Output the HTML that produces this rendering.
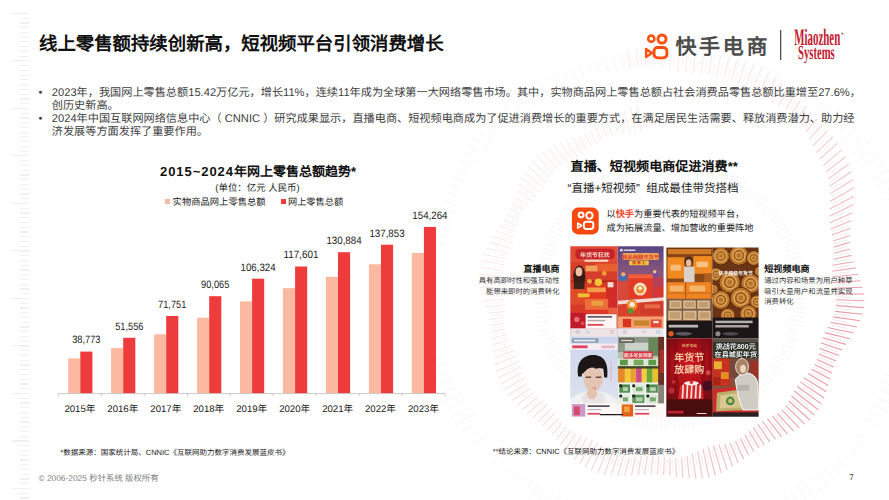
<!DOCTYPE html>
<html lang="zh-CN"><head><meta charset="utf-8">
<style>
html,body{margin:0;padding:0;}
body{text-rendering:geometricPrecision;width:889px;height:500px;overflow:hidden;background:#fff;position:relative;font-family:"Liberation Sans",sans-serif;color:#1a1a1a;}
.abs{position:absolute;white-space:nowrap;}
svg text{font-family:"Liberation Sans",sans-serif;}
#title{left:39px;top:31.7px;font-size:18.4px;font-weight:bold;line-height:24px;color:#111;}
.body{left:38.5px;font-size:11.16px;line-height:13.1px;color:#404040;}
.body i{font-style:normal;display:inline-block;width:13.3px;}
.ruler{position:absolute;left:20.4px;top:13px;width:8.4px;height:487px;background:repeating-linear-gradient(to bottom,#f0f0f0 0,#f0f0f0 1px,transparent 1px,transparent 4.75px);}
.ruler2{position:absolute;left:12px;top:13px;width:16.8px;height:487px;background:repeating-linear-gradient(to bottom,#efefef 0,#efefef 1px,transparent 1px,transparent 47.5px);}
</style></head><body>
<div class="ruler"></div><div class="ruler2"></div>
<svg class="abs" style="left:0;top:0" width="889" height="500" viewBox="0 0 889 500" stroke-width="0.9" fill="none">
<path d="M630.4 69.7L626.9 49.3" stroke="#f8eeec" stroke-width="1.1"/>
<path d="M634.2 68.1L632.5 57.2" stroke="#f9f3f2" stroke-width="0.9"/>
<path d="M638.2 68.0L635.7 50.1" stroke="#f8eeec" stroke-width="1.1"/>
<path d="M642.2 67.5L640.8 56.5" stroke="#f9f3f2" stroke-width="0.9"/>
<path d="M646.2 67.3L644.5 51.2" stroke="#f8edec" stroke-width="1.1"/>
<path d="M650.2 67.1L649.2 56.1" stroke="#f9f3f2" stroke-width="0.9"/>
<path d="M654.2 67.5L653.1 52.4" stroke="#f8edeb" stroke-width="1.1"/>
<path d="M658.1 67.1L657.5 56.0" stroke="#f9f3f2" stroke-width="0.9"/>
<path d="M662.1 68.7L661.6 53.5" stroke="#f8edeb" stroke-width="1.1"/>
<path d="M666.0 67.3L665.8 56.2" stroke="#f9f3f2" stroke-width="0.9"/>
<path d="M670.0 70.2L670.0 54.4" stroke="#f8edeb" stroke-width="1.1"/>
<path d="M673.9 67.8L674.1 56.7" stroke="#f9f3f2" stroke-width="0.9"/>
<path d="M677.8 71.8L678.3 55.0" stroke="#f8eceb" stroke-width="1.1"/>
<path d="M681.8 68.6L682.4 57.5" stroke="#f9f3f2" stroke-width="0.9"/>
<path d="M685.5 73.0L686.7 55.3" stroke="#f8ecea" stroke-width="1.1"/>
<path d="M689.6 69.6L690.6 58.5" stroke="#f9f3f2" stroke-width="0.9"/>
<path d="M693.1 73.8L695.1 55.5" stroke="#f8ecea" stroke-width="1.1"/>
<path d="M697.4 70.9L698.7 59.9" stroke="#f9f3f2" stroke-width="0.9"/>
<path d="M700.9 74.2L703.5 55.5" stroke="#f8ebea" stroke-width="1.1"/>
<path d="M705.1 72.5L706.8 61.5" stroke="#f9f2f2" stroke-width="0.9"/>
<path d="M708.7 74.7L712.0 55.7" stroke="#f8ebea" stroke-width="1.1"/>
<path d="M712.7 74.4L714.8 63.4" stroke="#f9f2f1" stroke-width="0.9"/>
<path d="M716.4 75.7L720.6 56.1" stroke="#f8ebe9" stroke-width="1.1"/>
<path d="M720.2 76.5L722.7 65.6" stroke="#f9f2f1" stroke-width="0.9"/>
<path d="M723.9 77.6L729.1 57.0" stroke="#f8ebe9" stroke-width="1.1"/>
<path d="M727.7 78.8L730.5 68.1" stroke="#f9f2f1" stroke-width="0.9"/>
<path d="M731.2 80.5L737.5 58.6" stroke="#f7eae9" stroke-width="1.1"/>
<path d="M735.0 81.5L738.2 70.8" stroke="#f9f2f1" stroke-width="0.9"/>
<path d="M738.2 84.2L745.7 60.9" stroke="#f7eae9" stroke-width="1.1"/>
<path d="M742.2 84.3L745.8 73.7" stroke="#f9f2f1" stroke-width="0.9"/>
<path d="M744.9 88.3L753.7 64.0" stroke="#f7eae8" stroke-width="1.1"/>
<path d="M749.3 87.4L753.3 76.9" stroke="#f8f2f1" stroke-width="0.9"/>
<path d="M751.4 92.4L761.4 67.9" stroke="#f7e8e7" stroke-width="1.1"/>
<path d="M756.3 90.8L760.7 80.4" stroke="#f8f2f1" stroke-width="0.9"/>
<path d="M758.1 96.2L768.7 72.4" stroke="#f7e6e5" stroke-width="1.1"/>
<path d="M763.1 94.4L767.9 84.0" stroke="#f8f1f0" stroke-width="0.9"/>
<path d="M764.8 99.6L775.6 77.5" stroke="#f6e4e3" stroke-width="1.1"/>
<path d="M769.8 98.2L775.0 87.9" stroke="#f8f1f0" stroke-width="0.9"/>
<path d="M771.8 102.6L782.1 83.1" stroke="#f6e1e1" stroke-width="1.1"/>
<path d="M776.3 102.2L781.9 92.1" stroke="#f8f0f0" stroke-width="0.9"/>
<path d="M778.7 105.6L788.4 89.0" stroke="#f6dfdf" stroke-width="1.1"/>
<path d="M782.8 106.3L788.8 96.3" stroke="#f7f0ef" stroke-width="0.9"/>
<path d="M785.7 108.9L794.6 94.6" stroke="#f6dddd" stroke-width="1.1"/>
<path d="M789.0 110.7L795.5 100.8" stroke="#f7efef" stroke-width="0.9"/>
<path d="M792.0 113.2L800.5 100.6" stroke="#f5dbdc" stroke-width="1.1"/>
<path d="M794.8 115.7L801.7 105.9" stroke="#f7efee" stroke-width="0.9"/>
<path d="M797.4 118.6L806.1 106.6" stroke="#f5d9da" stroke-width="1.1"/>
<path d="M800.2 121.2L807.5 111.5" stroke="#f7efee" stroke-width="0.9"/>
<path d="M802.1 125.0L811.6 112.7" stroke="#f5d7d8" stroke-width="1.1"/>
<path d="M805.2 127.0L812.9 117.6" stroke="#f6eeee" stroke-width="0.9"/>
<path d="M806.0 131.9L817.1 118.7" stroke="#f4d5d6" stroke-width="1.1"/>
<path d="M809.7 133.2L817.8 124.0" stroke="#f6eeed" stroke-width="0.9"/>
<path d="M809.5 139.1L822.4 124.7" stroke="#f4d3d4" stroke-width="1.1"/>
<path d="M813.8 139.8L822.2 130.7" stroke="#f6eded" stroke-width="0.9"/>
<path d="M812.9 146.0L827.6 130.8" stroke="#f4d1d2" stroke-width="1.1"/>
<path d="M817.4 146.6L826.2 137.8" stroke="#f6eded" stroke-width="0.9"/>
<path d="M816.4 152.6L832.7 136.9" stroke="#f4ced1" stroke-width="1.1"/>
<path d="M820.6 153.5L829.8 145.0" stroke="#f6ecec" stroke-width="0.9"/>
<path d="M819.9 159.0L837.5 143.2" stroke="#f3cccf" stroke-width="1.1"/>
<path d="M823.4 160.7L832.9 152.4" stroke="#f5ecec" stroke-width="0.9"/>
<path d="M823.3 165.3L841.8 149.8" stroke="#f3cacd" stroke-width="1.1"/>
<path d="M825.7 167.9L835.7 159.9" stroke="#f5eceb" stroke-width="0.9"/>
<path d="M826.3 171.9L845.6 156.8" stroke="#f3c8cb" stroke-width="1.1"/>
<path d="M827.7 175.2L838.0 167.4" stroke="#f5ebeb" stroke-width="0.9"/>
<path d="M828.5 178.8L848.8 164.1" stroke="#f2c6c9" stroke-width="1.1"/>
<path d="M829.3 182.4L839.9 175.0" stroke="#f5ebeb" stroke-width="0.9"/>
<path d="M829.8 186.2L851.1 171.8" stroke="#f2c4c8" stroke-width="1.1"/>
<path d="M830.6 189.7L841.6 182.6" stroke="#f4eaea" stroke-width="0.9"/>
<path d="M830.2 193.9L852.7 179.8" stroke="#f2c2c6" stroke-width="1.1"/>
<path d="M831.6 196.9L842.9 190.1" stroke="#f4eaea" stroke-width="0.9"/>
<path d="M830.0 201.6L853.5 188.1" stroke="#f1c0c4" stroke-width="1.1"/>
<path d="M832.3 204.0L843.9 197.6" stroke="#f4e9ea" stroke-width="0.9"/>
<path d="M829.6 209.1L853.6 196.4" stroke="#f1bec2" stroke-width="1.1"/>
<path d="M832.8 211.0L844.7 205.0" stroke="#f4e9e9" stroke-width="0.9"/>
<path d="M829.5 216.2L853.1 204.7" stroke="#f1bbc0" stroke-width="1.1"/>
<path d="M833.2 217.9L845.4 212.2" stroke="#f3e9e9" stroke-width="0.9"/>
<path d="M829.8 222.9L852.3 212.8" stroke="#f0b9be" stroke-width="1.1"/>
<path d="M833.4 224.7L845.9 219.3" stroke="#f3e8e8" stroke-width="0.9"/>
<path d="M830.6 229.1L851.4 220.7" stroke="#f0b7bc" stroke-width="1.1"/>
<path d="M833.5 231.2L846.3 226.3" stroke="#f3e8e8" stroke-width="0.9"/>
<path d="M831.8 235.1L850.5 228.3" stroke="#f0b5ba" stroke-width="1.1"/>
<path d="M833.6 237.7L846.6 233.2" stroke="#f3e7e8" stroke-width="0.9"/>
<path d="M832.9 241.1L849.9 235.5" stroke="#efb2b8" stroke-width="1.1"/>
<path d="M833.7 244.0L846.9 239.9" stroke="#f2e7e7" stroke-width="0.9"/>
<path d="M833.7 247.1L849.8 242.4" stroke="#efb0b6" stroke-width="1.1"/>
<path d="M833.8 250.1L847.3 246.5" stroke="#f2e6e7" stroke-width="0.9"/>
<path d="M833.8 253.2L850.3 249.0" stroke="#efaeb4" stroke-width="1.1"/>
<path d="M834.0 256.1L847.8 253.0" stroke="#f2e6e6" stroke-width="0.9"/>
<path d="M833.3 259.3L851.5 255.4" stroke="#efacb2" stroke-width="1.1"/>
<path d="M834.4 262.0L848.4 259.3" stroke="#f2e5e6" stroke-width="0.9"/>
<path d="M832.6 265.3L853.3 261.7" stroke="#eea9b0" stroke-width="1.1"/>
<path d="M835.0 267.9L849.1 265.6" stroke="#f2e5e6" stroke-width="0.9"/>
<path d="M832.2 271.2L855.6 267.9" stroke="#eea7ae" stroke-width="1.1"/>
<path d="M835.8 273.6L850.1 271.9" stroke="#f1e4e5" stroke-width="0.9"/>
<path d="M832.2 277.0L858.2 274.2" stroke="#eea5ac" stroke-width="1.1"/>
<path d="M836.4 279.4L850.8 278.2" stroke="#f1e4e5" stroke-width="0.9"/>
<path d="M832.7 282.6L860.6 280.7" stroke="#eda3ab" stroke-width="1.1"/>
<path d="M836.8 285.3L851.4 284.5" stroke="#f1e4e4" stroke-width="0.9"/>
<path d="M833.7 288.3L862.6 287.3" stroke="#eda0a9" stroke-width="1.1"/>
<path d="M837.0 291.1L851.7 290.8" stroke="#f1e3e4" stroke-width="0.9"/>
<path d="M835.0 294.0L864.0 294.0" stroke="#ed9ea7" stroke-width="1.1"/>
<path d="M836.9 296.9L851.8 297.2" stroke="#f0e3e4" stroke-width="0.9"/>
<path d="M836.0 299.8L864.4 300.8" stroke="#ed9ea6" stroke-width="1.1"/>
<path d="M836.5 302.7L851.3 303.5" stroke="#f0e3e4" stroke-width="0.9"/>
<path d="M836.1 305.6L863.9 307.6" stroke="#ec9da6" stroke-width="1.1"/>
<path d="M835.7 308.5L850.5 309.8" stroke="#f0e3e4" stroke-width="0.9"/>
<path d="M835.1 311.4L862.4 314.2" stroke="#ec9da6" stroke-width="1.1"/>
<path d="M834.6 314.2L849.4 316.0" stroke="#f0e3e3" stroke-width="0.9"/>
<path d="M833.2 316.9L860.1 320.7" stroke="#ec9da5" stroke-width="1.1"/>
<path d="M833.2 319.8L847.9 322.2" stroke="#f0e2e3" stroke-width="0.9"/>
<path d="M830.5 322.3L857.0 327.0" stroke="#ec9ca5" stroke-width="1.1"/>
<path d="M831.5 325.4L846.2 328.2" stroke="#f0e2e3" stroke-width="0.9"/>
<path d="M827.6 327.5L853.5 333.0" stroke="#ec9ca4" stroke-width="1.1"/>
<path d="M829.6 330.9L844.2 334.2" stroke="#f0e2e3" stroke-width="0.9"/>
<path d="M824.9 332.6L849.7 338.8" stroke="#ec9ba4" stroke-width="1.1"/>
<path d="M827.6 336.2L842.0 340.1" stroke="#f0e2e3" stroke-width="0.9"/>
<path d="M822.7 337.8L845.9 344.4" stroke="#ec9ba4" stroke-width="1.1"/>
<path d="M825.4 341.5L839.7 345.9" stroke="#f0e2e3" stroke-width="0.9"/>
<path d="M821.1 343.1L842.3 350.0" stroke="#ec9aa3" stroke-width="1.1"/>
<path d="M823.1 346.7L837.2 351.6" stroke="#f0e2e3" stroke-width="0.9"/>
<path d="M819.8 348.5L839.0 355.5" stroke="#ec9aa3" stroke-width="1.1"/>
<path d="M820.7 351.8L834.7 357.2" stroke="#f0e2e3" stroke-width="0.9"/>
<path d="M818.6 354.0L836.1 361.1" stroke="#ec9ba4" stroke-width="1.1"/>
<path d="M818.3 357.0L832.1 362.8" stroke="#f0e2e3" stroke-width="0.9"/>
<path d="M817.0 359.4L833.8 366.9" stroke="#ec9ca4" stroke-width="1.1"/>
<path d="M815.9 362.0L829.4 368.3" stroke="#f0e2e3" stroke-width="0.9"/>
<path d="M814.7 364.6L831.8 372.9" stroke="#ec9da5" stroke-width="1.1"/>
<path d="M813.5 367.1L826.7 373.8" stroke="#f0e3e4" stroke-width="0.9"/>
<path d="M811.6 369.3L830.1 379.1" stroke="#ec9da6" stroke-width="1.1"/>
<path d="M810.8 372.1L823.8 379.2" stroke="#f0e3e4" stroke-width="0.9"/>
<path d="M807.9 373.6L828.3 385.4" stroke="#ed9ea7" stroke-width="1.1"/>
<path d="M808.0 376.9L820.7 384.5" stroke="#f0e3e4" stroke-width="0.9"/>
<path d="M804.0 377.8L826.4 391.8" stroke="#ed9fa7" stroke-width="1.1"/>
<path d="M805.0 381.7L817.4 389.7" stroke="#f1e3e4" stroke-width="0.9"/>
<path d="M800.3 381.9L824.2 398.0" stroke="#eda0a8" stroke-width="1.1"/>
<path d="M801.9 386.3L813.9 394.8" stroke="#f1e3e4" stroke-width="0.9"/>
<path d="M797.0 386.3L821.5 404.1" stroke="#eda1a9" stroke-width="1.1"/>
<path d="M798.6 390.9L810.3 399.7" stroke="#f1e3e4" stroke-width="0.9"/>
<path d="M794.2 391.0L818.3 409.8" stroke="#eda2aa" stroke-width="1.1"/>
<path d="M795.1 395.3L806.5 404.5" stroke="#f1e4e4" stroke-width="0.9"/>
<path d="M791.5 396.0L814.4 415.2" stroke="#eda2aa" stroke-width="1.1"/>
<path d="M791.5 399.6L802.5 409.2" stroke="#f1e4e5" stroke-width="0.9"/>
<path d="M788.8 401.0L809.9 420.0" stroke="#eda3ab" stroke-width="1.1"/>
<path d="M787.7 403.8L798.4 413.7" stroke="#f1e4e5" stroke-width="0.9"/>
<path d="M785.6 405.7L804.8 424.2" stroke="#eda4ac" stroke-width="1.1"/>
<path d="M783.8 407.8L794.1 418.1" stroke="#f1e4e5" stroke-width="0.9"/>
<path d="M781.8 409.8L799.3 427.9" stroke="#eea5ac" stroke-width="1.1"/>
<path d="M779.8 411.7L789.7 422.3" stroke="#f1e4e5" stroke-width="0.9"/>
<path d="M777.4 413.3L793.5 431.2" stroke="#eea6ad" stroke-width="1.1"/>
<path d="M775.6 415.5L785.1 426.4" stroke="#f1e4e5" stroke-width="0.9"/>
<path d="M772.5 416.1L787.5 434.1" stroke="#eea7ae" stroke-width="1.1"/>
<path d="M771.3 419.1L780.4 430.3" stroke="#f1e5e5" stroke-width="0.9"/>
<path d="M767.4 418.7L781.5 436.7" stroke="#eea9b0" stroke-width="1.1"/>
<path d="M766.9 422.6L775.5 434.0" stroke="#f2e5e6" stroke-width="0.9"/>
<path d="M762.4 421.2L775.6 439.3" stroke="#eeabb1" stroke-width="1.1"/>
<path d="M762.3 425.9L770.5 437.5" stroke="#f2e6e6" stroke-width="0.9"/>
<path d="M757.8 424.2L769.8 441.9" stroke="#efadb3" stroke-width="1.1"/>
<path d="M757.7 429.0L765.4 440.8" stroke="#f2e6e6" stroke-width="0.9"/>
<path d="M753.4 427.5L764.2 444.8" stroke="#efaeb5" stroke-width="1.1"/>
<path d="M752.9 432.0L760.1 444.0" stroke="#f2e6e7" stroke-width="0.9"/>
<path d="M749.3 431.3L758.9 448.0" stroke="#efb0b7" stroke-width="1.1"/>
<path d="M748.1 434.8L754.8 447.0" stroke="#f3e7e7" stroke-width="0.9"/>
<path d="M745.0 435.0L753.7 451.4" stroke="#efb2b8" stroke-width="1.1"/>
<path d="M743.1 437.5L749.4 449.7" stroke="#f3e7e8" stroke-width="0.9"/>
<path d="M740.4 438.4L748.6 455.1" stroke="#f0b4ba" stroke-width="1.1"/>
<path d="M738.0 439.9L743.8 452.3" stroke="#f3e8e8" stroke-width="0.9"/>
<path d="M735.5 441.1L743.5 459.0" stroke="#f0b6bc" stroke-width="1.1"/>
<path d="M732.9 442.2L738.2 454.7" stroke="#f3e8e8" stroke-width="0.9"/>
<path d="M730.2 442.9L738.2 462.9" stroke="#f0b8bd" stroke-width="1.1"/>
<path d="M727.7 444.3L732.5 456.9" stroke="#f3e8e9" stroke-width="0.9"/>
<path d="M724.6 444.0L732.8 466.6" stroke="#f1babf" stroke-width="1.1"/>
<path d="M722.4 446.2L726.8 458.9" stroke="#f4e9e9" stroke-width="0.9"/>
<path d="M719.0 444.7L727.2 470.1" stroke="#f1bcc1" stroke-width="1.1"/>
<path d="M717.1 448.1L721.0 460.8" stroke="#f4e9e9" stroke-width="0.9"/>
<path d="M713.4 445.5L721.4 473.1" stroke="#f1bec3" stroke-width="1.1"/>
<path d="M711.8 449.8L715.2 462.6" stroke="#f4eaea" stroke-width="0.9"/>
<path d="M708.1 446.8L715.3 475.5" stroke="#f1c0c4" stroke-width="1.1"/>
<path d="M706.4 451.5L709.3 464.3" stroke="#f4eaea" stroke-width="0.9"/>
<path d="M702.9 448.7L709.0 477.3" stroke="#f2c2c6" stroke-width="1.1"/>
<path d="M700.9 453.1L703.4 465.9" stroke="#f4eaea" stroke-width="0.9"/>
<path d="M697.7 451.2L702.5 478.4" stroke="#f2c4c8" stroke-width="1.1"/>
<path d="M695.4 454.5L697.4 467.3" stroke="#f5ebeb" stroke-width="0.9"/>
<path d="M692.4 453.7L696.0 478.8" stroke="#f2c6c9" stroke-width="1.1"/>
<path d="M689.9 455.8L691.4 468.5" stroke="#f5ebeb" stroke-width="0.9"/>
<path d="M687.0 455.9L689.4 478.6" stroke="#f3c8cb" stroke-width="1.1"/>
<path d="M684.3 456.9L685.4 469.6" stroke="#f5eceb" stroke-width="0.9"/>
<path d="M681.4 457.4L682.9 477.9" stroke="#f3cacd" stroke-width="1.1"/>
<path d="M678.6 457.9L679.3 470.5" stroke="#f5ecec" stroke-width="0.9"/>
<path d="M675.7 458.0L676.4 477.1" stroke="#f3cccf" stroke-width="1.1"/>
<path d="M672.9 458.7L673.1 471.2" stroke="#f5ecec" stroke-width="0.9"/>
<path d="M670.0 457.7L670.0 476.1" stroke="#f3ced0" stroke-width="1.1"/>
<path d="M667.1 459.3L666.9 471.8" stroke="#f6edec" stroke-width="0.9"/>
<path d="M664.3 457.0L663.7 475.3" stroke="#f4cfd1" stroke-width="1.1"/>
<path d="M661.3 459.7L660.7 472.1" stroke="#f6edec" stroke-width="0.9"/>
<path d="M658.7 456.3L657.4 474.8" stroke="#f4cfd1" stroke-width="1.1"/>
<path d="M655.5 459.8L654.4 472.2" stroke="#f6eded" stroke-width="0.9"/>
<path d="M653.0 455.9L651.0 474.5" stroke="#f4d0d2" stroke-width="1.1"/>
<path d="M649.6 459.8L648.1 472.1" stroke="#f6eded" stroke-width="0.9"/>
<path d="M647.2 456.0L644.6 474.6" stroke="#f4d1d3" stroke-width="1.1"/>
<path d="M643.8 459.5L641.9 471.7" stroke="#f6eded" stroke-width="0.9"/>
<path d="M641.4 456.4L638.1 474.9" stroke="#f4d1d3" stroke-width="1.1"/>
<path d="M638.0 458.9L635.6 471.0" stroke="#f6eded" stroke-width="0.9"/>
<path d="M635.4 456.9L631.5 475.3" stroke="#f4d2d4" stroke-width="1.1"/>
<path d="M632.1 458.0L629.4 470.0" stroke="#f6eded" stroke-width="0.9"/>
<path d="M629.4 457.0L624.7 475.7" stroke="#f4d3d4" stroke-width="1.1"/>
<path d="M626.3 456.9L623.2 468.8" stroke="#f6eeed" stroke-width="0.9"/>
<path d="M623.5 456.2L617.8 475.9" stroke="#f4d3d5" stroke-width="1.1"/>
<path d="M620.6 455.5L617.0 467.2" stroke="#f6eeed" stroke-width="0.9"/>
<path d="M617.9 454.4L611.0 475.6" stroke="#f4d4d6" stroke-width="1.1"/>
<path d="M615.0 453.8L611.0 465.3" stroke="#f6eeed" stroke-width="0.9"/>
<path d="M612.6 451.8L604.2 474.7" stroke="#f4d5d6" stroke-width="1.1"/>
<path d="M609.4 451.8L605.1 463.1" stroke="#f6eeee" stroke-width="0.9"/>
<path d="M607.6 448.5L597.7 473.0" stroke="#f4d5d7" stroke-width="1.1"/>
<path d="M604.0 449.6L599.2 460.8" stroke="#f6eeee" stroke-width="0.9"/>
<path d="M602.6 445.3L591.3 470.7" stroke="#f5d6d7" stroke-width="1.1"/>
<path d="M598.6 447.2L593.5 458.2" stroke="#f6eeee" stroke-width="0.9"/>
<path d="M597.7 442.3L585.3 467.6" stroke="#f5d7d8" stroke-width="1.1"/>
<path d="M593.3 444.6L587.8 455.4" stroke="#f7eeee" stroke-width="0.9"/>
<path d="M592.4 439.9L579.7 463.8" stroke="#f5d7d8" stroke-width="1.1"/>
<path d="M588.1 441.8L582.2 452.4" stroke="#f7efee" stroke-width="0.9"/>
<path d="M587.0 437.8L574.5 459.5" stroke="#f5d8d9" stroke-width="1.1"/>
<path d="M583.0 438.9L576.8 449.2" stroke="#f7efee" stroke-width="0.9"/>
<path d="M581.4 435.8L569.6 454.7" stroke="#f5d9da" stroke-width="1.1"/>
<path d="M578.0 435.7L571.4 445.8" stroke="#f7efee" stroke-width="0.9"/>
<path d="M575.9 433.6L565.0 449.7" stroke="#f5dada" stroke-width="1.1"/>
<path d="M573.1 432.4L566.2 442.2" stroke="#f7efee" stroke-width="0.9"/>
<path d="M570.7 430.7L560.6 444.6" stroke="#f5dadb" stroke-width="1.1"/>
<path d="M568.3 429.0L561.1 438.5" stroke="#f7efef" stroke-width="0.9"/>
<path d="M566.1 427.0L556.3 439.5" stroke="#f5dbdb" stroke-width="1.1"/>
<path d="M563.6 425.3L556.2 434.6" stroke="#f7efef" stroke-width="0.9"/>
<path d="M562.0 422.7L552.0 434.7" stroke="#f5dcdc" stroke-width="1.1"/>
<path d="M559.1 421.5L551.3 430.5" stroke="#f7efef" stroke-width="0.9"/>
<path d="M558.4 418.0L547.5 430.1" stroke="#f5dcdd" stroke-width="1.1"/>
<path d="M554.7 417.6L546.7 426.2" stroke="#f7efef" stroke-width="0.9"/>
<path d="M554.9 413.2L542.8 425.7" stroke="#f6dddd" stroke-width="1.1"/>
<path d="M550.5 413.5L542.2 421.8" stroke="#f7f0ef" stroke-width="0.9"/>
<path d="M551.3 408.7L537.8 421.6" stroke="#f6dede" stroke-width="1.1"/>
<path d="M546.4 409.3L537.8 417.3" stroke="#f7f0ef" stroke-width="0.9"/>
<path d="M547.3 404.5L532.7 417.7" stroke="#f6dede" stroke-width="1.1"/>
<path d="M542.5 404.9L533.6 412.6" stroke="#f7f0ef" stroke-width="0.9"/>
<path d="M542.9 400.6L527.3 413.7" stroke="#f6dfdf" stroke-width="1.1"/>
<path d="M538.7 400.4L529.6 407.7" stroke="#f7f0ef" stroke-width="0.9"/>
<path d="M538.3 396.9L521.9 409.7" stroke="#f6e0e0" stroke-width="1.1"/>
<path d="M535.0 395.7L525.7 402.7" stroke="#f8f0f0" stroke-width="0.9"/>
<path d="M533.9 392.9L516.7 405.4" stroke="#f6e1e0" stroke-width="1.1"/>
<path d="M531.6 390.9L522.0 397.6" stroke="#f8f0f0" stroke-width="0.9"/>
<path d="M530.0 388.5L511.7 400.8" stroke="#f6e1e1" stroke-width="1.1"/>
<path d="M528.3 386.0L518.5 392.4" stroke="#f8f0f0" stroke-width="0.9"/>
<path d="M526.8 383.5L507.2 395.7" stroke="#f6e2e2" stroke-width="1.1"/>
<path d="M525.1 381.0L515.2 387.0" stroke="#f8f1f0" stroke-width="0.9"/>
<path d="M524.4 378.1L503.2 390.3" stroke="#f6e3e2" stroke-width="1.1"/>
<path d="M522.2 375.9L512.1 381.5" stroke="#f8f1f0" stroke-width="0.9"/>
<path d="M522.5 372.4L500.0 384.4" stroke="#f6e3e3" stroke-width="1.1"/>
<path d="M519.4 370.7L509.2 375.9" stroke="#f8f1f0" stroke-width="0.9"/>
<path d="M520.9 366.7L497.4 378.2" stroke="#f7e4e3" stroke-width="1.1"/>
<path d="M516.8 365.4L506.5 370.3" stroke="#f8f1f0" stroke-width="0.9"/>
<path d="M519.2 361.2L495.5 371.7" stroke="#f7e5e4" stroke-width="1.1"/>
<path d="M514.4 360.0L503.9 364.5" stroke="#f8f1f0" stroke-width="0.9"/>
<path d="M516.9 355.8L494.3 365.0" stroke="#f7e6e5" stroke-width="1.1"/>
<path d="M512.2 354.6L501.6 358.6" stroke="#f8f1f1" stroke-width="0.9"/>
<path d="M514.2 350.7L493.5 358.2" stroke="#f7e6e5" stroke-width="1.1"/>
<path d="M510.2 349.0L499.5 352.7" stroke="#f8f1f1" stroke-width="0.9"/>
<path d="M511.3 345.6L493.0 351.5" stroke="#f7e7e6" stroke-width="1.1"/>
<path d="M508.4 343.4L497.6 346.7" stroke="#f8f2f1" stroke-width="0.9"/>
<path d="M508.4 340.3L492.6 344.9" stroke="#f7e8e6" stroke-width="1.1"/>
<path d="M506.8 337.7L495.9 340.7" stroke="#f8f2f1" stroke-width="0.9"/>
<path d="M506.2 334.9L492.2 338.3" stroke="#f7e8e7" stroke-width="1.1"/>
<path d="M505.3 332.0L494.4 334.5" stroke="#f8f2f1" stroke-width="0.9"/>
<path d="M504.8 329.1L491.5 331.9" stroke="#f7e9e8" stroke-width="1.1"/>
<path d="M504.1 326.2L493.1 328.4" stroke="#f9f2f1" stroke-width="0.9"/>
<path d="M504.3 323.2L490.5 325.6" stroke="#f7eae8" stroke-width="1.1"/>
<path d="M503.1 320.4L492.0 322.2" stroke="#f9f2f1" stroke-width="0.9"/>
<path d="M504.5 317.3L489.2 319.4" stroke="#f7eae9" stroke-width="1.1"/>
<path d="M502.3 314.6L491.2 316.0" stroke="#f9f2f1" stroke-width="0.9"/>
<path d="M504.9 311.4L487.5 313.2" stroke="#f7eae9" stroke-width="1.1"/>
<path d="M501.6 308.7L490.5 309.7" stroke="#f9f2f1" stroke-width="0.9"/>
<path d="M505.2 305.5L485.6 306.9" stroke="#f8ebe9" stroke-width="1.1"/>
<path d="M501.2 302.8L490.1 303.4" stroke="#f9f2f1" stroke-width="0.9"/>
<path d="M505.1 299.8L483.7 300.5" stroke="#f8ebe9" stroke-width="1.1"/>
<path d="M501.0 296.9L489.9 297.1" stroke="#f9f2f1" stroke-width="0.9"/>
<path d="M504.4 294.0L481.9 294.0" stroke="#f8ebea" stroke-width="1.1"/>
<path d="M501.0 291.1L489.9 290.9" stroke="#f9f2f2" stroke-width="0.9"/>
<path d="M503.4 288.2L480.5 287.4" stroke="#f8ebea" stroke-width="1.1"/>
<path d="M501.2 285.2L490.1 284.6" stroke="#f9f3f2" stroke-width="0.9"/>
<path d="M502.5 282.3L479.5 280.7" stroke="#f8ecea" stroke-width="1.1"/>
<path d="M501.6 279.3L490.6 278.3" stroke="#f9f3f2" stroke-width="0.9"/>
<path d="M502.1 276.4L479.3 274.0" stroke="#f8ecea" stroke-width="1.1"/>
<path d="M502.3 273.4L491.3 272.1" stroke="#f9f3f2" stroke-width="0.9"/>
<path d="M502.7 270.5L479.8 267.3" stroke="#f8eceb" stroke-width="1.1"/>
<path d="M503.1 267.6L492.1 265.8" stroke="#f9f3f2" stroke-width="0.9"/>
<path d="M504.1 264.8L481.1 260.7" stroke="#f8edeb" stroke-width="1.1"/>
<path d="M504.1 261.8L493.2 259.6" stroke="#f9f3f2" stroke-width="0.9"/>
<path d="M506.3 259.2L483.1 254.3" stroke="#f8edeb" stroke-width="1.1"/>
<path d="M505.3 256.0L494.6 253.5" stroke="#f9f3f2" stroke-width="0.9"/>
<path d="M508.8 253.8L485.9 248.1" stroke="#f8edeb" stroke-width="1.1"/>
<path d="M506.8 250.3L496.1 247.4" stroke="#f9f3f2" stroke-width="0.9"/>
<path d="M511.2 248.5L489.1 242.1" stroke="#f8edec" stroke-width="1.1"/>
<path d="M508.4 244.6L497.8 241.4" stroke="#f9f3f2" stroke-width="0.9"/>
<path d="M513.1 243.0L492.6 236.4" stroke="#f8eeec" stroke-width="1.1"/>
<path d="M510.2 239.0L499.8 235.4" stroke="#f9f3f2" stroke-width="0.9"/>
<path d="M514.5 237.4L496.3 230.8" stroke="#f8eeec" stroke-width="1.1"/>
<path d="M512.2 233.4L502.0 229.5" stroke="#f9f3f2" stroke-width="0.9"/>
<path d="M515.6 231.6L499.9 225.3" stroke="#f8eeec" stroke-width="1.1"/>
<path d="M514.4 228.0L504.3 223.7" stroke="#f9f3f2" stroke-width="0.9"/>
<path d="M516.7 225.8L503.3 219.8" stroke="#f8eeec" stroke-width="1.1"/>
<path d="M516.8 222.6L506.9 217.9" stroke="#f9f3f2" stroke-width="0.9"/>
<path d="M518.4 220.0L506.4 214.2" stroke="#f8eeec" stroke-width="1.1"/>
<path d="M519.4 217.3L509.6 212.3" stroke="#f9f3f2" stroke-width="0.9"/>
<path d="M520.8 214.7L509.2 208.5" stroke="#f8eeec" stroke-width="1.1"/>
<path d="M522.2 212.1L512.6 206.7" stroke="#f9f3f2" stroke-width="0.9"/>
<path d="M524.0 209.7L511.7 202.6" stroke="#f8eeec" stroke-width="1.1"/>
<path d="M525.1 207.0L515.7 201.3" stroke="#f9f3f2" stroke-width="0.9"/>
<path d="M528.0 205.2L514.0 196.5" stroke="#f8eeec" stroke-width="1.1"/>
<path d="M528.3 202.0L519.0 196.0" stroke="#f9f3f2" stroke-width="0.9"/>
<path d="M532.1 201.0L516.3 190.3" stroke="#f8eeec" stroke-width="1.1"/>
<path d="M531.6 197.1L522.6 190.8" stroke="#f9f3f2" stroke-width="0.9"/>
<path d="M536.2 196.8L518.6 184.0" stroke="#f8eeec" stroke-width="1.1"/>
<path d="M535.0 192.3L526.2 185.7" stroke="#f9f3f2" stroke-width="0.9"/>
<path d="M540.0 192.4L521.3 177.8" stroke="#f8eeec" stroke-width="1.1"/>
<path d="M538.7 187.6L530.1 180.7" stroke="#f9f3f2" stroke-width="0.9"/>
<path d="M543.3 187.7L524.3 171.7" stroke="#f8eeec" stroke-width="1.1"/>
<path d="M542.5 183.1L534.2 175.9" stroke="#f9f3f2" stroke-width="0.9"/>
<path d="M546.3 182.6L527.8 166.0" stroke="#f8eeec" stroke-width="1.1"/>
<path d="M546.4 178.7L538.4 171.2" stroke="#f9f3f2" stroke-width="0.9"/>
<path d="M549.4 177.5L532.0 160.7" stroke="#f8eeec" stroke-width="1.1"/>
<path d="M550.5 174.5L542.7 166.7" stroke="#f9f3f2" stroke-width="0.9"/>
<path d="M552.9 172.7L536.7 155.9" stroke="#f8eeec" stroke-width="1.1"/>
<path d="M554.7 170.4L547.2 162.4" stroke="#f9f3f2" stroke-width="0.9"/>
<path d="M556.9 168.4L541.9 151.8" stroke="#f8eeec" stroke-width="1.1"/>
<path d="M559.1 166.5L551.9 158.2" stroke="#f9f3f2" stroke-width="0.9"/>
<path d="M561.6 164.8L547.6 148.2" stroke="#f8eeec" stroke-width="1.1"/>
<path d="M563.6 162.7L556.7 154.1" stroke="#f9f3f2" stroke-width="0.9"/>
<path d="M566.8 161.9L553.7 145.1" stroke="#f8eeec" stroke-width="1.1"/>
<path d="M568.3 159.0L561.7 150.2" stroke="#f9f3f2" stroke-width="0.9"/>
<path d="M572.2 159.3L559.9 142.5" stroke="#f8eeec" stroke-width="1.1"/>
<path d="M573.1 155.6L566.8 146.6" stroke="#f9f3f2" stroke-width="0.9"/>
<path d="M577.5 156.9L566.2 140.1" stroke="#f8eeec" stroke-width="1.1"/>
<path d="M578.0 152.3L572.0 143.0" stroke="#f9f3f2" stroke-width="0.9"/>
<path d="M582.6 154.1L572.4 137.9" stroke="#f8eeec" stroke-width="1.1"/>
<path d="M583.0 149.1L577.3 139.7" stroke="#f9f3f2" stroke-width="0.9"/>
<path d="M587.3 150.8L578.5 135.6" stroke="#f8eeec" stroke-width="1.1"/>
<path d="M588.1 146.2L582.7 136.6" stroke="#f9f3f2" stroke-width="0.9"/>
<path d="M591.9 147.2L584.5 133.1" stroke="#f8eeec" stroke-width="1.1"/>
<path d="M593.3 143.4L588.3 133.6" stroke="#f9f3f2" stroke-width="0.9"/>
<path d="M596.6 143.5L590.2 130.4" stroke="#f8eeec" stroke-width="1.1"/>
<path d="M598.6 140.8L593.9 130.9" stroke="#f9f3f2" stroke-width="0.9"/>
<path d="M601.5 140.1L595.8 127.4" stroke="#f8eeec" stroke-width="1.1"/>
<path d="M604.0 138.4L599.7 128.3" stroke="#f9f3f2" stroke-width="0.9"/>
<path d="M606.7 137.3L601.3 124.0" stroke="#f8eeec" stroke-width="1.1"/>
<path d="M609.4 136.2L605.5 126.0" stroke="#f9f3f2" stroke-width="0.9"/>
<path d="M612.3 135.5L606.8 120.5" stroke="#f8eeec" stroke-width="1.1"/>
<path d="M615.0 134.2L611.4 123.8" stroke="#f9f3f2" stroke-width="0.9"/>
<path d="M618.1 134.4L612.4 116.8" stroke="#f8eeec" stroke-width="1.1"/>
<path d="M620.6 132.4L617.4 121.9" stroke="#f9f3f2" stroke-width="0.9"/>
<path d="M624.1 133.9L618.2 113.3" stroke="#f8eeec" stroke-width="1.1"/>
<path d="M626.3 130.8L623.4 120.1" stroke="#f9f3f2" stroke-width="0.9"/>
<path d="M630.0 133.4L624.1 110.1" stroke="#f8eeec" stroke-width="1.1"/>
<path d="M632.0 129.3L629.5 118.6" stroke="#f9f3f2" stroke-width="0.9"/>
<path d="M635.7 132.6L630.3 107.3" stroke="#f8eeec" stroke-width="1.1"/>
<path d="M637.8 128.1L635.7 117.3" stroke="#f9f3f2" stroke-width="0.9"/>
<path d="M641.3 131.3L636.7 105.2" stroke="#f8eeec" stroke-width="1.1"/>
<path d="M643.6 127.1L641.8 116.2" stroke="#f9f3f2" stroke-width="0.9"/>
<path d="M435.0 291.9L416.1 291.8" stroke="#f8f4f4" stroke-width="0.8"/>
<path d="M435.6 283.8L416.6 282.9" stroke="#f8f4f4" stroke-width="0.8"/>
<path d="M436.9 275.7L417.7 274.1" stroke="#f8f4f4" stroke-width="0.8"/>
<path d="M438.8 267.7L419.3 265.4" stroke="#f8f4f4" stroke-width="0.8"/>
<path d="M441.0 259.8L421.3 256.8" stroke="#f8f4f4" stroke-width="0.8"/>
<path d="M443.4 252.0L423.8 248.4" stroke="#f8f4f4" stroke-width="0.8"/>
<path d="M445.9 244.3L426.5 240.0" stroke="#f8f4f4" stroke-width="0.8"/>
<path d="M448.2 236.6L429.5 231.8" stroke="#f8f4f4" stroke-width="0.8"/>
<path d="M450.4 228.9L432.7 223.7" stroke="#f8f4f4" stroke-width="0.8"/>
<path d="M452.4 221.2L436.0 215.7" stroke="#f8f4f4" stroke-width="0.8"/>
<path d="M454.2 213.3L439.3 207.7" stroke="#f8f4f4" stroke-width="0.8"/>
<path d="M456.2 205.4L442.7 199.8" stroke="#f8f4f4" stroke-width="0.8"/>
<path d="M458.3 197.5L446.1 192.0" stroke="#f8f4f4" stroke-width="0.8"/>
<path d="M460.8 189.7L449.6 184.1" stroke="#f8f4f4" stroke-width="0.8"/>
<path d="M463.9 182.1L453.1 176.2" stroke="#f8f4f4" stroke-width="0.8"/>
<path d="M467.5 174.7L456.7 168.3" stroke="#f8f4f4" stroke-width="0.8"/>
<path d="M471.9 167.8L460.4 160.5" stroke="#f8f4f4" stroke-width="0.8"/>
<path d="M476.8 161.2L464.4 152.7" stroke="#f8f4f4" stroke-width="0.8"/>
<path d="M482.3 155.1L468.6 145.0" stroke="#f8f4f4" stroke-width="0.8"/>
<path d="M488.1 149.3L473.2 137.4" stroke="#f8f4f4" stroke-width="0.8"/>
<path d="M494.2 143.9L478.1 130.1" stroke="#f8f4f4" stroke-width="0.8"/>
<path d="M500.3 138.5L483.4 123.0" stroke="#f8f4f4" stroke-width="0.8"/>
<path d="M506.4 133.2L489.1 116.2" stroke="#f8f4f4" stroke-width="0.8"/>
<path d="M512.4 127.9L495.2 109.8" stroke="#f8f4f4" stroke-width="0.8"/>
<path d="M518.2 122.4L501.7 103.8" stroke="#f8f4f4" stroke-width="0.8"/>
<path d="M523.9 116.7L508.6 98.2" stroke="#f8f4f4" stroke-width="0.8"/>
<path d="M529.6 111.0L515.9 93.1" stroke="#f8f4f4" stroke-width="0.8"/>
<path d="M535.4 105.3L523.4 88.4" stroke="#f8f4f4" stroke-width="0.8"/>
<path d="M541.4 99.7L531.1 84.2" stroke="#f8f4f4" stroke-width="0.8"/>
<path d="M547.7 94.5L539.1 80.3" stroke="#f8f4f4" stroke-width="0.8"/>
<path d="M554.4 89.7L547.1 76.8" stroke="#f8f4f4" stroke-width="0.8"/>
<path d="M561.5 85.6L555.2 73.5" stroke="#f8f4f4" stroke-width="0.8"/>
<path d="M568.9 82.1L563.4 70.5" stroke="#f8f4f4" stroke-width="0.8"/>
<path d="M576.6 79.3L571.6 67.6" stroke="#f8f4f4" stroke-width="0.8"/>
<path d="M584.5 77.0L579.7 64.8" stroke="#f8f4f4" stroke-width="0.8"/>
<path d="M592.5 75.3L587.9 62.1" stroke="#f8f4f4" stroke-width="0.8"/>
<path d="M600.6 73.8L596.0 59.4" stroke="#f8f4f4" stroke-width="0.8"/>
<path d="M608.6 72.5L604.2 56.7" stroke="#f8f4f4" stroke-width="0.8"/>
<path d="M616.5 71.1L612.4 54.1" stroke="#f8f4f4" stroke-width="0.8"/>
<path d="M624.3 69.6L620.7 51.5" stroke="#f8f4f4" stroke-width="0.8"/>
<path d="M632.2 67.9L629.0 49.1" stroke="#f8f4f4" stroke-width="0.8"/>
<path d="M640.0 66.0L637.5 46.8" stroke="#f8f4f4" stroke-width="0.8"/>
<path d="M647.9 64.1L646.0 44.8" stroke="#f8f4f4" stroke-width="0.8"/>
<path d="M655.8 62.3L654.7 43.1" stroke="#f8f4f4" stroke-width="0.8"/>
<path d="M663.9 60.8L663.4 41.8" stroke="#f8f4f4" stroke-width="0.8"/>
<path d="M672.0 59.8L672.2 41.0" stroke="#f8f4f4" stroke-width="0.8"/>
<path d="M680.2 59.4L681.1 40.6" stroke="#f8f4f4" stroke-width="0.8"/>
<path d="M688.4 59.7L689.9 40.9" stroke="#f8f4f4" stroke-width="0.8"/>
<path d="M696.6 60.8L698.8 41.6" stroke="#f8f4f4" stroke-width="0.8"/>
<path d="M704.6 62.7L707.5 43.0" stroke="#f8f4f4" stroke-width="0.8"/>
<path d="M712.4 65.0L716.2 44.9" stroke="#f8f4f4" stroke-width="0.8"/>
<path d="M720.1 67.8L724.7 47.4" stroke="#f8f4f4" stroke-width="0.8"/>
<path d="M727.7 70.8L733.0 50.3" stroke="#f8f4f4" stroke-width="0.8"/>
<path d="M735.2 73.8L741.2 53.6" stroke="#f8f4f4" stroke-width="0.8"/>
<path d="M742.7 76.7L749.2 57.2" stroke="#f8f4f4" stroke-width="0.8"/>
<path d="M750.2 79.5L757.1 61.0" stroke="#f8f4f4" stroke-width="0.8"/>
<path d="M757.8 82.0L764.8 65.1" stroke="#f8f4f4" stroke-width="0.8"/>
<path d="M765.5 84.5L772.4 69.2" stroke="#f8f4f4" stroke-width="0.8"/>
<path d="M773.2 87.0L780.0 73.5" stroke="#f8f4f4" stroke-width="0.8"/>
<path d="M780.9 89.7L787.4 77.7" stroke="#f8f4f4" stroke-width="0.8"/>
<path d="M788.6 92.7L794.9 82.0" stroke="#f8f4f4" stroke-width="0.8"/>
<path d="M796.0 96.3L802.3 86.4" stroke="#f8f4f4" stroke-width="0.8"/>
<path d="M803.1 100.4L809.7 90.7" stroke="#f8f4f4" stroke-width="0.8"/>
<path d="M809.7 105.1L817.1 95.2" stroke="#f8f4f4" stroke-width="0.8"/>
<path d="M816.0 110.5L824.5 99.8" stroke="#f8f4f4" stroke-width="0.8"/>
<path d="M821.7 116.3L831.8 104.6" stroke="#f8f4f4" stroke-width="0.8"/>
<path d="M827.1 122.6L839.0 109.6" stroke="#f8f4f4" stroke-width="0.8"/>
<path d="M832.1 129.0L846.1 114.8" stroke="#f8f4f4" stroke-width="0.8"/>
<path d="M837.0 135.5L852.9 120.4" stroke="#f8f4f4" stroke-width="0.8"/>
<path d="M841.8 142.0L859.4 126.4" stroke="#f8f4f4" stroke-width="0.8"/>
<path d="M846.7 148.3L865.6 132.7" stroke="#f8f4f4" stroke-width="0.8"/>
<path d="M851.8 154.5L871.4 139.4" stroke="#f8f4f4" stroke-width="0.8"/>
<path d="M856.9 160.7L876.8 146.5" stroke="#f8f4f4" stroke-width="0.8"/>
<path d="M862.2 166.8L881.7 153.9" stroke="#f8f4f4" stroke-width="0.8"/>
<path d="M867.5 173.0L886.1 161.6" stroke="#f8f4f4" stroke-width="0.8"/>
<path d="M872.7 179.3L890.0 169.5" stroke="#f8f4f4" stroke-width="0.8"/>
<path d="M877.5 186.0L893.4 177.7" stroke="#f8f4f4" stroke-width="0.8"/>
<path d="M881.8 193.0L896.5 186.0" stroke="#f8f4f4" stroke-width="0.8"/>
<path d="M885.5 200.3L899.2 194.3" stroke="#f8f4f4" stroke-width="0.8"/>
<path d="M888.5 207.9L901.6 202.8" stroke="#f8f4f4" stroke-width="0.8"/>
<path d="M890.8 215.8L903.7 211.2" stroke="#f8f4f4" stroke-width="0.8"/>
<path d="M892.5 223.8L905.7 219.7" stroke="#f8f4f4" stroke-width="0.8"/>
<path d="M893.7 232.0L907.5 228.1" stroke="#f8f4f4" stroke-width="0.8"/>
<path d="M894.6 240.1L909.3 236.5" stroke="#f8f4f4" stroke-width="0.8"/>
<path d="M895.4 248.2L911.1 245.0" stroke="#f8f4f4" stroke-width="0.8"/>
<path d="M896.1 256.2L912.8 253.4" stroke="#f8f4f4" stroke-width="0.8"/>
<path d="M897.0 264.1L914.4 261.8" stroke="#f8f4f4" stroke-width="0.8"/>
<path d="M898.1 272.0L916.0 270.3" stroke="#f8f4f4" stroke-width="0.8"/>
<path d="M899.4 280.0L917.5 278.9" stroke="#f8f4f4" stroke-width="0.8"/>
<path d="M900.8 288.0L918.9 287.5" stroke="#f8f4f4" stroke-width="0.8"/>
<path d="M902.0 296.0L920.0 296.2" stroke="#f8f4f4" stroke-width="0.8"/>
<path d="M902.9 304.2L920.8 304.9" stroke="#f8f4f4" stroke-width="0.8"/>
<path d="M903.4 312.4L921.2 313.8" stroke="#f8f4f4" stroke-width="0.8"/>
<path d="M903.3 320.6L921.2 322.6" stroke="#f8f4f4" stroke-width="0.8"/>
<path d="M902.4 328.7L920.7 331.5" stroke="#f8f4f4" stroke-width="0.8"/>
<path d="M900.8 336.8L919.6 340.3" stroke="#f8f4f4" stroke-width="0.8"/>
<path d="M898.5 344.7L918.0 349.0" stroke="#f8f4f4" stroke-width="0.8"/>
<path d="M895.6 352.3L915.8 357.6" stroke="#f8f4f4" stroke-width="0.8"/>
<path d="M892.3 359.8L913.1 366.0" stroke="#f8f4f4" stroke-width="0.8"/>
<path d="M888.8 367.2L909.8 374.2" stroke="#f8f4f4" stroke-width="0.8"/>
<path d="M885.2 374.5L906.1 382.3" stroke="#f8f4f4" stroke-width="0.8"/>
<path d="M881.7 381.7L902.0 390.1" stroke="#f8f4f4" stroke-width="0.8"/>
<path d="M878.4 389.0L897.6 397.7" stroke="#f8f4f4" stroke-width="0.8"/>
<path d="M875.3 396.3L892.9 405.1" stroke="#f8f4f4" stroke-width="0.8"/>
<path d="M872.2 403.8L888.0 412.4" stroke="#f8f4f4" stroke-width="0.8"/>
<path d="M869.2 411.3L883.0 419.5" stroke="#f8f4f4" stroke-width="0.8"/>
<path d="M866.0 418.8L878.0 426.5" stroke="#f8f4f4" stroke-width="0.8"/>
<path d="M862.4 426.2L872.9 433.4" stroke="#f8f4f4" stroke-width="0.8"/>
<path d="M858.4 433.4L867.8 440.3" stroke="#f8f4f4" stroke-width="0.8"/>
<path d="M853.8 440.2L862.6 447.2" stroke="#f8f4f4" stroke-width="0.8"/>
<path d="M848.7 446.6L857.4 454.1" stroke="#f8f4f4" stroke-width="0.8"/>
<path d="M842.9 452.5L852.2 460.9" stroke="#f8f4f4" stroke-width="0.8"/>
<path d="M836.7 457.8L846.8 467.7" stroke="#f8f4f4" stroke-width="0.8"/>
<path d="M830.2 462.8L841.3 474.5" stroke="#f8f4f4" stroke-width="0.8"/>
<path d="M823.4 467.4L835.5 481.1" stroke="#f8f4f4" stroke-width="0.8"/>
<path d="M816.5 471.8L829.6 487.6" stroke="#f8f4f4" stroke-width="0.8"/>
<path d="M809.7 476.1L823.3 493.8" stroke="#f8f4f4" stroke-width="0.8"/>
<path d="M803.0 480.5L816.7 499.7" stroke="#f8f4f4" stroke-width="0.8"/>
<path d="M796.4 485.0L809.8 505.3" stroke="#f8f4f4" stroke-width="0.8"/>
<path d="M789.9 489.7L802.6 510.4" stroke="#f8f4f4" stroke-width="0.8"/>
<path d="M783.4 494.5L795.1 515.1" stroke="#f8f4f4" stroke-width="0.8"/>
<path d="M776.9 499.3L787.2 519.2" stroke="#f8f4f4" stroke-width="0.8"/>
<path d="M770.2 504.0L779.2 522.9" stroke="#f8f4f4" stroke-width="0.8"/>
<path d="M763.2 508.4L770.9 526.0" stroke="#f8f4f4" stroke-width="0.8"/>
<path d="M756.0 512.3L762.4 528.7" stroke="#f8f4f4" stroke-width="0.8"/>
<path d="M748.4 515.5L753.9 530.9" stroke="#f8f4f4" stroke-width="0.8"/>
<path d="M740.6 518.0L745.3 532.7" stroke="#f8f4f4" stroke-width="0.8"/>
<path d="M732.6 519.8L736.6 534.2" stroke="#f8f4f4" stroke-width="0.8"/>
<path d="M724.5 521.0L728.0 535.4" stroke="#f8f4f4" stroke-width="0.8"/>
<path d="M716.3 521.7L719.3 536.4" stroke="#f8f4f4" stroke-width="0.8"/>
<path d="M708.1 522.0L710.7 537.3" stroke="#f8f4f4" stroke-width="0.8"/>
<path d="M700.0 522.1L702.1 538.1" stroke="#f8f4f4" stroke-width="0.8"/>
<path d="M692.0 522.3L693.6 538.9" stroke="#f8f4f4" stroke-width="0.8"/>
<path d="M684.0 522.6L685.0 539.6" stroke="#f8f4f4" stroke-width="0.8"/>
<path d="M676.0 523.1L676.4 540.3" stroke="#f8f4f4" stroke-width="0.8"/>
<path d="M668.0 523.7L667.8 540.9" stroke="#f8f4f4" stroke-width="0.8"/>
<path d="M659.9 524.5L659.2 541.5" stroke="#f8f4f4" stroke-width="0.8"/>
<path d="M651.8 525.1L650.5 541.9" stroke="#f8f4f4" stroke-width="0.8"/>
<path d="M643.6 525.5L641.7 542.1" stroke="#f8f4f4" stroke-width="0.8"/>
<path d="M635.4 525.5L632.9 541.9" stroke="#f8f4f4" stroke-width="0.8"/>
<path d="M627.2 524.8L624.1 541.5" stroke="#f8f4f4" stroke-width="0.8"/>
<path d="M619.1 523.4L615.3 540.6" stroke="#f8f4f4" stroke-width="0.8"/>
<path d="M611.2 521.3L606.6 539.2" stroke="#f8f4f4" stroke-width="0.8"/>
<path d="M603.5 518.5L597.9 537.3" stroke="#f8f4f4" stroke-width="0.8"/>
<path d="M596.0 515.1L589.4 534.9" stroke="#f8f4f4" stroke-width="0.8"/>
<path d="M588.8 511.3L581.1 531.9" stroke="#f8f4f4" stroke-width="0.8"/>
<path d="M581.7 507.2L572.9 528.3" stroke="#f8f4f4" stroke-width="0.8"/>
<path d="M574.7 503.1L565.0 524.3" stroke="#f8f4f4" stroke-width="0.8"/>
<path d="M567.7 499.1L557.4 519.8" stroke="#f8f4f4" stroke-width="0.8"/>
<path d="M560.7 495.3L550.0 515.0" stroke="#f8f4f4" stroke-width="0.8"/>
<path d="M553.6 491.6L542.9 509.8" stroke="#f8f4f4" stroke-width="0.8"/>
<path d="M546.4 488.0L536.0 504.3" stroke="#f8f4f4" stroke-width="0.8"/>
<path d="M539.1 484.4L529.3 498.7" stroke="#f8f4f4" stroke-width="0.8"/>
<path d="M531.9 480.7L522.8 493.0" stroke="#f8f4f4" stroke-width="0.8"/>
<path d="M524.7 476.6L516.4 487.1" stroke="#f8f4f4" stroke-width="0.8"/>
<path d="M517.8 472.2L510.1 481.3" stroke="#f8f4f4" stroke-width="0.8"/>
<path d="M511.3 467.2L503.8 475.4" stroke="#f8f4f4" stroke-width="0.8"/>
<path d="M505.3 461.6L497.5 469.5" stroke="#f8f4f4" stroke-width="0.8"/>
<path d="M499.8 455.5L491.3 463.6" stroke="#f8f4f4" stroke-width="0.8"/>
<path d="M494.8 449.0L485.1 457.6" stroke="#f8f4f4" stroke-width="0.8"/>
<path d="M490.4 442.1L479.0 451.5" stroke="#f8f4f4" stroke-width="0.8"/>
<path d="M486.2 435.0L472.9 445.3" stroke="#f8f4f4" stroke-width="0.8"/>
<path d="M482.4 427.8L466.9 438.9" stroke="#f8f4f4" stroke-width="0.8"/>
<path d="M478.5 420.7L461.1 432.3" stroke="#f8f4f4" stroke-width="0.8"/>
<path d="M474.7 413.7L455.5 425.4" stroke="#f8f4f4" stroke-width="0.8"/>
<path d="M470.7 406.8L450.3 418.3" stroke="#f8f4f4" stroke-width="0.8"/>
<path d="M466.5 399.9L445.4 410.9" stroke="#f8f4f4" stroke-width="0.8"/>
<path d="M462.2 393.1L441.0 403.2" stroke="#f8f4f4" stroke-width="0.8"/>
<path d="M457.8 386.3L437.1 395.3" stroke="#f8f4f4" stroke-width="0.8"/>
<path d="M453.6 379.2L433.7 387.1" stroke="#f8f4f4" stroke-width="0.8"/>
<path d="M449.7 372.0L430.8 378.7" stroke="#f8f4f4" stroke-width="0.8"/>
<path d="M446.4 364.5L428.5 370.1" stroke="#f8f4f4" stroke-width="0.8"/>
<path d="M443.6 356.8L426.7 361.5" stroke="#f8f4f4" stroke-width="0.8"/>
<path d="M441.6 348.8L425.4 352.7" stroke="#f8f4f4" stroke-width="0.8"/>
<path d="M440.3 340.7L424.4 344.0" stroke="#f8f4f4" stroke-width="0.8"/>
<path d="M439.6 332.6L423.9 335.2" stroke="#f8f4f4" stroke-width="0.8"/>
<path d="M439.5 324.3L423.6 326.4" stroke="#f8f4f4" stroke-width="0.8"/>
<path d="M439.8 316.2L423.5 317.7" stroke="#f8f4f4" stroke-width="0.8"/>
<path d="M440.2 308.1L423.6 309.1" stroke="#f8f4f4" stroke-width="0.8"/>
<path d="M440.7 300.0L423.7 300.4" stroke="#f8f4f4" stroke-width="0.8"/>
<path d="M792.0 294.0L806.0 294.0" stroke="#f8f3f2" stroke-width="0.8"/>
<path d="M791.9 298.3L805.9 298.7" stroke="#f8f3f2" stroke-width="0.8"/>
<path d="M791.7 302.5L805.7 303.5" stroke="#f8f3f2" stroke-width="0.8"/>
<path d="M791.3 306.8L805.3 308.2" stroke="#f8f3f2" stroke-width="0.8"/>
<path d="M790.8 311.0L804.7 312.9" stroke="#f8f3f2" stroke-width="0.8"/>
<path d="M790.1 315.2L803.9 317.6" stroke="#f8f3f2" stroke-width="0.8"/>
<path d="M789.3 319.4L803.0 322.3" stroke="#f8f3f2" stroke-width="0.8"/>
<path d="M788.4 323.5L802.0 326.9" stroke="#f8f3f2" stroke-width="0.8"/>
<path d="M787.3 327.6L800.7 331.5" stroke="#f8f3f2" stroke-width="0.8"/>
<path d="M786.0 331.7L799.3 336.0" stroke="#f8f3f2" stroke-width="0.8"/>
<path d="M784.6 335.7L797.8 340.5" stroke="#f8f3f2" stroke-width="0.8"/>
<path d="M783.1 339.7L796.1 344.9" stroke="#f8f3f2" stroke-width="0.8"/>
<path d="M781.5 343.6L794.2 349.3" stroke="#f8f3f2" stroke-width="0.8"/>
<path d="M779.7 347.5L792.2 353.6" stroke="#f8f3f2" stroke-width="0.8"/>
<path d="M777.7 351.3L790.1 357.8" stroke="#f8f3f2" stroke-width="0.8"/>
<path d="M775.7 355.0L787.8 362.0" stroke="#f8f3f2" stroke-width="0.8"/>
<path d="M773.5 358.7L785.3 366.1" stroke="#f8f3f2" stroke-width="0.8"/>
<path d="M771.1 362.2L782.7 370.1" stroke="#f8f3f2" stroke-width="0.8"/>
<path d="M768.7 365.7L780.0 373.9" stroke="#f8f3f2" stroke-width="0.8"/>
<path d="M766.1 369.1L777.2 377.7" stroke="#f8f3f2" stroke-width="0.8"/>
<path d="M763.5 372.4L774.2 381.4" stroke="#f8f3f2" stroke-width="0.8"/>
<path d="M760.7 375.6L771.1 385.0" stroke="#f8f3f2" stroke-width="0.8"/>
<path d="M757.8 378.7L767.8 388.5" stroke="#f8f3f2" stroke-width="0.8"/>
<path d="M754.7 381.8L764.5 391.8" stroke="#f8f3f2" stroke-width="0.8"/>
<path d="M751.6 384.7L761.0 395.1" stroke="#f8f3f2" stroke-width="0.8"/>
<path d="M748.4 387.5L757.4 398.2" stroke="#f8f3f2" stroke-width="0.8"/>
<path d="M745.1 390.1L753.7 401.2" stroke="#f8f3f2" stroke-width="0.8"/>
<path d="M741.7 392.7L749.9 404.0" stroke="#f8f3f2" stroke-width="0.8"/>
<path d="M738.2 395.1L746.1 406.7" stroke="#f8f3f2" stroke-width="0.8"/>
<path d="M734.7 397.5L742.1 409.3" stroke="#f8f3f2" stroke-width="0.8"/>
<path d="M731.0 399.7L738.0 411.8" stroke="#f8f3f2" stroke-width="0.8"/>
<path d="M727.3 401.7L733.8 414.1" stroke="#f8f3f2" stroke-width="0.8"/>
<path d="M723.5 403.7L729.6 416.2" stroke="#f8f3f2" stroke-width="0.8"/>
<path d="M719.6 405.5L725.3 418.2" stroke="#f8f3f2" stroke-width="0.8"/>
<path d="M715.7 407.1L720.9 420.1" stroke="#f8f3f2" stroke-width="0.8"/>
<path d="M711.7 408.6L716.5 421.8" stroke="#f8f3f2" stroke-width="0.8"/>
<path d="M707.7 410.0L712.0 423.3" stroke="#f8f3f2" stroke-width="0.8"/>
<path d="M703.6 411.3L707.5 424.7" stroke="#f8f3f2" stroke-width="0.8"/>
<path d="M699.5 412.4L702.9 426.0" stroke="#f8f3f2" stroke-width="0.8"/>
<path d="M695.4 413.3L698.3 427.0" stroke="#f8f3f2" stroke-width="0.8"/>
<path d="M691.2 414.1L693.6 427.9" stroke="#f8f3f2" stroke-width="0.8"/>
<path d="M687.0 414.8L688.9 428.7" stroke="#f8f3f2" stroke-width="0.8"/>
<path d="M682.8 415.3L684.2 429.3" stroke="#f8f3f2" stroke-width="0.8"/>
<path d="M678.5 415.7L679.5 429.7" stroke="#f8f3f2" stroke-width="0.8"/>
<path d="M674.3 415.9L674.7 429.9" stroke="#f8f3f2" stroke-width="0.8"/>
<path d="M670.0 416.0L670.0 430.0" stroke="#f8f3f2" stroke-width="0.8"/>
<path d="M665.7 415.9L665.3 429.9" stroke="#f8f3f2" stroke-width="0.8"/>
<path d="M661.5 415.7L660.5 429.7" stroke="#f8f3f2" stroke-width="0.8"/>
<path d="M657.2 415.3L655.8 429.3" stroke="#f8f3f2" stroke-width="0.8"/>
<path d="M653.0 414.8L651.1 428.7" stroke="#f8f3f2" stroke-width="0.8"/>
<path d="M648.8 414.1L646.4 427.9" stroke="#f8f3f2" stroke-width="0.8"/>
<path d="M644.6 413.3L641.7 427.0" stroke="#f8f3f2" stroke-width="0.8"/>
<path d="M640.5 412.4L637.1 426.0" stroke="#f8f3f2" stroke-width="0.8"/>
<path d="M636.4 411.3L632.5 424.7" stroke="#f8f3f2" stroke-width="0.8"/>
<path d="M632.3 410.0L628.0 423.3" stroke="#f8f3f2" stroke-width="0.8"/>
<path d="M628.3 408.6L623.5 421.8" stroke="#f8f3f2" stroke-width="0.8"/>
<path d="M624.3 407.1L619.1 420.1" stroke="#f8f3f2" stroke-width="0.8"/>
<path d="M620.4 405.5L614.7 418.2" stroke="#f8f3f2" stroke-width="0.8"/>
<path d="M616.5 403.7L610.4 416.2" stroke="#f8f3f2" stroke-width="0.8"/>
<path d="M612.7 401.7L606.2 414.1" stroke="#f8f3f2" stroke-width="0.8"/>
<path d="M609.0 399.7L602.0 411.8" stroke="#f8f3f2" stroke-width="0.8"/>
<path d="M605.3 397.5L597.9 409.3" stroke="#f8f3f2" stroke-width="0.8"/>
<path d="M601.8 395.1L593.9 406.7" stroke="#f8f3f2" stroke-width="0.8"/>
<path d="M598.3 392.7L590.1 404.0" stroke="#f8f3f2" stroke-width="0.8"/>
<path d="M594.9 390.1L586.3 401.2" stroke="#f8f3f2" stroke-width="0.8"/>
<path d="M591.6 387.5L582.6 398.2" stroke="#f8f3f2" stroke-width="0.8"/>
<path d="M588.4 384.7L579.0 395.1" stroke="#f8f3f2" stroke-width="0.8"/>
<path d="M585.3 381.8L575.5 391.8" stroke="#f8f3f2" stroke-width="0.8"/>
<path d="M582.2 378.7L572.2 388.5" stroke="#f8f3f2" stroke-width="0.8"/>
<path d="M579.3 375.6L568.9 385.0" stroke="#f8f3f2" stroke-width="0.8"/>
<path d="M576.5 372.4L565.8 381.4" stroke="#f8f3f2" stroke-width="0.8"/>
<path d="M573.9 369.1L562.8 377.7" stroke="#f8f3f2" stroke-width="0.8"/>
<path d="M571.3 365.7L560.0 373.9" stroke="#f8f3f2" stroke-width="0.8"/>
<path d="M568.9 362.2L557.3 370.1" stroke="#f8f3f2" stroke-width="0.8"/>
<path d="M566.5 358.7L554.7 366.1" stroke="#f8f3f2" stroke-width="0.8"/>
<path d="M564.3 355.0L552.2 362.0" stroke="#f8f3f2" stroke-width="0.8"/>
<path d="M562.3 351.3L549.9 357.8" stroke="#f8f3f2" stroke-width="0.8"/>
<path d="M560.3 347.5L547.8 353.6" stroke="#f8f3f2" stroke-width="0.8"/>
<path d="M558.5 343.6L545.8 349.3" stroke="#f8f3f2" stroke-width="0.8"/>
<path d="M556.9 339.7L543.9 344.9" stroke="#f8f3f2" stroke-width="0.8"/>
<path d="M555.4 335.7L542.2 340.5" stroke="#f8f3f2" stroke-width="0.8"/>
<path d="M554.0 331.7L540.7 336.0" stroke="#f8f3f2" stroke-width="0.8"/>
<path d="M552.7 327.6L539.3 331.5" stroke="#f8f3f2" stroke-width="0.8"/>
<path d="M551.6 323.5L538.0 326.9" stroke="#f8f3f2" stroke-width="0.8"/>
<path d="M550.7 319.4L537.0 322.3" stroke="#f8f3f2" stroke-width="0.8"/>
<path d="M549.9 315.2L536.1 317.6" stroke="#f8f3f2" stroke-width="0.8"/>
<path d="M549.2 311.0L535.3 312.9" stroke="#f8f3f2" stroke-width="0.8"/>
<path d="M548.7 306.8L534.7 308.2" stroke="#f8f3f2" stroke-width="0.8"/>
<path d="M548.3 302.5L534.3 303.5" stroke="#f8f3f2" stroke-width="0.8"/>
<path d="M548.1 298.3L534.1 298.7" stroke="#f8f3f2" stroke-width="0.8"/>
<path d="M548.0 294.0L534.0 294.0" stroke="#f8f3f2" stroke-width="0.8"/>
<path d="M548.1 289.7L534.1 289.3" stroke="#f8f3f2" stroke-width="0.8"/>
<path d="M548.3 285.5L534.3 284.5" stroke="#f8f3f2" stroke-width="0.8"/>
<path d="M548.7 281.2L534.7 279.8" stroke="#f8f3f2" stroke-width="0.8"/>
<path d="M549.2 277.0L535.3 275.1" stroke="#f8f3f2" stroke-width="0.8"/>
<path d="M549.9 272.8L536.1 270.4" stroke="#f8f3f2" stroke-width="0.8"/>
<path d="M550.7 268.6L537.0 265.7" stroke="#f8f3f2" stroke-width="0.8"/>
<path d="M551.6 264.5L538.0 261.1" stroke="#f8f3f2" stroke-width="0.8"/>
<path d="M552.7 260.4L539.3 256.5" stroke="#f8f3f2" stroke-width="0.8"/>
<path d="M554.0 256.3L540.7 252.0" stroke="#f8f3f2" stroke-width="0.8"/>
<path d="M555.4 252.3L542.2 247.5" stroke="#f8f3f2" stroke-width="0.8"/>
<path d="M556.9 248.3L543.9 243.1" stroke="#f8f3f2" stroke-width="0.8"/>
<path d="M558.5 244.4L545.8 238.7" stroke="#f8f3f2" stroke-width="0.8"/>
<path d="M560.3 240.5L547.8 234.4" stroke="#f8f3f2" stroke-width="0.8"/>
<path d="M562.3 236.7L549.9 230.2" stroke="#f8f3f2" stroke-width="0.8"/>
<path d="M564.3 233.0L552.2 226.0" stroke="#f8f3f2" stroke-width="0.8"/>
<path d="M566.5 229.3L554.7 221.9" stroke="#f8f3f2" stroke-width="0.8"/>
<path d="M568.9 225.8L557.3 217.9" stroke="#f8f3f2" stroke-width="0.8"/>
<path d="M571.3 222.3L560.0 214.1" stroke="#f8f3f2" stroke-width="0.8"/>
<path d="M573.9 218.9L562.8 210.3" stroke="#f8f3f2" stroke-width="0.8"/>
<path d="M576.5 215.6L565.8 206.6" stroke="#f8f3f2" stroke-width="0.8"/>
<path d="M579.3 212.4L568.9 203.0" stroke="#f8f3f2" stroke-width="0.8"/>
<path d="M582.2 209.3L572.2 199.5" stroke="#f8f3f2" stroke-width="0.8"/>
<path d="M585.3 206.2L575.5 196.2" stroke="#f8f3f2" stroke-width="0.8"/>
<path d="M588.4 203.3L579.0 192.9" stroke="#f8f3f2" stroke-width="0.8"/>
<path d="M591.6 200.5L582.6 189.8" stroke="#f8f3f2" stroke-width="0.8"/>
<path d="M594.9 197.9L586.3 186.8" stroke="#f8f3f2" stroke-width="0.8"/>
<path d="M598.3 195.3L590.1 184.0" stroke="#f8f3f2" stroke-width="0.8"/>
<path d="M601.8 192.9L593.9 181.3" stroke="#f8f3f2" stroke-width="0.8"/>
<path d="M605.3 190.5L597.9 178.7" stroke="#f8f3f2" stroke-width="0.8"/>
<path d="M609.0 188.3L602.0 176.2" stroke="#f8f3f2" stroke-width="0.8"/>
<path d="M612.7 186.3L606.2 173.9" stroke="#f8f3f2" stroke-width="0.8"/>
<path d="M616.5 184.3L610.4 171.8" stroke="#f8f3f2" stroke-width="0.8"/>
<path d="M620.4 182.5L614.7 169.8" stroke="#f8f3f2" stroke-width="0.8"/>
<path d="M624.3 180.9L619.1 167.9" stroke="#f8f3f2" stroke-width="0.8"/>
<path d="M628.3 179.4L623.5 166.2" stroke="#f8f3f2" stroke-width="0.8"/>
<path d="M632.3 178.0L628.0 164.7" stroke="#f8f3f2" stroke-width="0.8"/>
<path d="M636.4 176.7L632.5 163.3" stroke="#f8f3f2" stroke-width="0.8"/>
<path d="M640.5 175.6L637.1 162.0" stroke="#f8f3f2" stroke-width="0.8"/>
<path d="M644.6 174.7L641.7 161.0" stroke="#f8f3f2" stroke-width="0.8"/>
<path d="M648.8 173.9L646.4 160.1" stroke="#f8f3f2" stroke-width="0.8"/>
<path d="M653.0 173.2L651.1 159.3" stroke="#f8f3f2" stroke-width="0.8"/>
<path d="M657.2 172.7L655.8 158.7" stroke="#f8f3f2" stroke-width="0.8"/>
<path d="M661.5 172.3L660.5 158.3" stroke="#f8f3f2" stroke-width="0.8"/>
<path d="M665.7 172.1L665.3 158.1" stroke="#f8f3f2" stroke-width="0.8"/>
<path d="M670.0 172.0L670.0 158.0" stroke="#f8f3f2" stroke-width="0.8"/>
<path d="M674.3 172.1L674.7 158.1" stroke="#f8f3f2" stroke-width="0.8"/>
<path d="M678.5 172.3L679.5 158.3" stroke="#f8f3f2" stroke-width="0.8"/>
<path d="M682.8 172.7L684.2 158.7" stroke="#f8f3f2" stroke-width="0.8"/>
<path d="M687.0 173.2L688.9 159.3" stroke="#f8f3f2" stroke-width="0.8"/>
<path d="M691.2 173.9L693.6 160.1" stroke="#f8f3f2" stroke-width="0.8"/>
<path d="M695.4 174.7L698.3 161.0" stroke="#f8f3f2" stroke-width="0.8"/>
<path d="M699.5 175.6L702.9 162.0" stroke="#f8f3f2" stroke-width="0.8"/>
<path d="M703.6 176.7L707.5 163.3" stroke="#f8f3f2" stroke-width="0.8"/>
<path d="M707.7 178.0L712.0 164.7" stroke="#f8f3f2" stroke-width="0.8"/>
<path d="M711.7 179.4L716.5 166.2" stroke="#f8f3f2" stroke-width="0.8"/>
<path d="M715.7 180.9L720.9 167.9" stroke="#f8f3f2" stroke-width="0.8"/>
<path d="M719.6 182.5L725.3 169.8" stroke="#f8f3f2" stroke-width="0.8"/>
<path d="M723.5 184.3L729.6 171.8" stroke="#f8f3f2" stroke-width="0.8"/>
<path d="M727.3 186.3L733.8 173.9" stroke="#f8f3f2" stroke-width="0.8"/>
<path d="M731.0 188.3L738.0 176.2" stroke="#f8f3f2" stroke-width="0.8"/>
<path d="M734.7 190.5L742.1 178.7" stroke="#f8f3f2" stroke-width="0.8"/>
<path d="M738.2 192.9L746.1 181.3" stroke="#f8f3f2" stroke-width="0.8"/>
<path d="M741.7 195.3L749.9 184.0" stroke="#f8f3f2" stroke-width="0.8"/>
<path d="M745.1 197.9L753.7 186.8" stroke="#f8f3f2" stroke-width="0.8"/>
<path d="M748.4 200.5L757.4 189.8" stroke="#f8f3f2" stroke-width="0.8"/>
<path d="M751.6 203.3L761.0 192.9" stroke="#f8f3f2" stroke-width="0.8"/>
<path d="M754.7 206.2L764.5 196.2" stroke="#f8f3f2" stroke-width="0.8"/>
<path d="M757.8 209.3L767.8 199.5" stroke="#f8f3f2" stroke-width="0.8"/>
<path d="M760.7 212.4L771.1 203.0" stroke="#f8f3f2" stroke-width="0.8"/>
<path d="M763.5 215.6L774.2 206.6" stroke="#f8f3f2" stroke-width="0.8"/>
<path d="M766.1 218.9L777.2 210.3" stroke="#f8f3f2" stroke-width="0.8"/>
<path d="M768.7 222.3L780.0 214.1" stroke="#f8f3f2" stroke-width="0.8"/>
<path d="M771.1 225.8L782.7 217.9" stroke="#f8f3f2" stroke-width="0.8"/>
<path d="M773.5 229.3L785.3 221.9" stroke="#f8f3f2" stroke-width="0.8"/>
<path d="M775.7 233.0L787.8 226.0" stroke="#f8f3f2" stroke-width="0.8"/>
<path d="M777.7 236.7L790.1 230.2" stroke="#f8f3f2" stroke-width="0.8"/>
<path d="M779.7 240.5L792.2 234.4" stroke="#f8f3f2" stroke-width="0.8"/>
<path d="M781.5 244.4L794.2 238.7" stroke="#f8f3f2" stroke-width="0.8"/>
<path d="M783.1 248.3L796.1 243.1" stroke="#f8f3f2" stroke-width="0.8"/>
<path d="M784.6 252.3L797.8 247.5" stroke="#f8f3f2" stroke-width="0.8"/>
<path d="M786.0 256.3L799.3 252.0" stroke="#f8f3f2" stroke-width="0.8"/>
<path d="M787.3 260.4L800.7 256.5" stroke="#f8f3f2" stroke-width="0.8"/>
<path d="M788.4 264.5L802.0 261.1" stroke="#f8f3f2" stroke-width="0.8"/>
<path d="M789.3 268.6L803.0 265.7" stroke="#f8f3f2" stroke-width="0.8"/>
<path d="M790.1 272.8L803.9 270.4" stroke="#f8f3f2" stroke-width="0.8"/>
<path d="M790.8 277.0L804.7 275.1" stroke="#f8f3f2" stroke-width="0.8"/>
<path d="M791.3 281.2L805.3 279.8" stroke="#f8f3f2" stroke-width="0.8"/>
<path d="M791.7 285.5L805.7 284.5" stroke="#f8f3f2" stroke-width="0.8"/>
<path d="M791.9 289.7L805.9 289.3" stroke="#f8f3f2" stroke-width="0.8"/>
</svg>
<div id="title" class="abs">线上零售额持续创新高，短视频平台引领消费增长</div>
<div id="b1" class="abs body" style="top:86.7px"><i>•</i>2023年，我国网上零售总额15.42万亿元，增长11%，连续11年成为全球第一大网络零售市场。其中，实物商品网上零售总额占社会消费品零售总额比重增至27.6%，</div>
<div id="b2" class="abs body" style="top:99.8px"><i></i>创历史新高。</div>
<div id="b3" class="abs body" style="top:112.9px"><i>•</i>2024年中国互联网网络信息中心（ CNNIC ）研究成果显示，直播电商、短视频电商成为了促进消费增长的重要方式，在满足居民生活需要、释放消费潜力、助力经</div>
<div id="b4" class="abs body" style="top:126px"><i></i>济发展等方面发挥了重要作用。</div>

<!-- header logos -->
<svg class="abs" style="left:640px;top:26px" width="220" height="42" viewBox="640 26 220 42">
 <g fill="none" stroke="#ff4f0d" stroke-width="2.9" stroke-linejoin="round">
  <circle cx="651.3" cy="38.7" r="3.1" stroke-width="2.5"/>
  <circle cx="662" cy="39" r="4.05"/>
  <rect x="654" y="47.5" width="12.9" height="10.4" rx="3.6"/>
  <path d="M646.1 49V57L651.9 53Z" stroke-width="2.3"/>
 </g>
 <text x="675.4" y="54.2" font-size="21" font-weight="bold" fill="#4d4d4d" textLength="92" lengthAdjust="spacing">快手电商</text>
 <path d="M780.7 30.1V59.9" stroke="#333" stroke-width="1.1"/>
 <g fill="#c2202f" font-weight="bold">
 <text x="794.2" y="45.3" font-size="23.5" textLength="46" lengthAdjust="spacingAndGlyphs" style="font-family:'Liberation Serif',serif">Miaozhen</text>
 <text x="798.1" y="58.8" font-size="20" textLength="36.6" lengthAdjust="spacingAndGlyphs" style="font-family:'Liberation Serif',serif">Systems</text>
 <circle cx="842.3" cy="33.6" r="0.9"/>
 </g>
</svg>

<!-- chart -->
<div id="ct" class="abs" style="left:160px;top:163px;font-size:13px;font-weight:bold;line-height:18px;color:#111"><span style="letter-spacing:.95px">2015~2024</span>年网上零售总额趋势*</div>
<div id="cu" class="abs" style="left:215.3px;top:182.5px;font-size:9.45px;line-height:12px;color:#1a1a1a">(单位：亿元 人民币)</div>
<div id="lg1" class="abs" style="left:172.6px;top:195.9px;font-size:9.3px;line-height:12px;color:#1a1a1a">实物商品网上零售总额</div>
<div id="lg2" class="abs" style="left:288px;top:195.9px;font-size:9.2px;line-height:12px;color:#1a1a1a">网上零售总额</div>
<div class="abs" style="left:165.2px;top:198.8px;width:4.8px;height:4.8px;background:#f9b9a2"></div>
<div class="abs" style="left:281px;top:198.8px;width:4.8px;height:4.8px;background:#ee3b3b"></div>
<svg class="abs" style="left:0;top:0" width="889" height="500" viewBox="0 0 889 500">
<rect x="68.2" y="358.4" width="12.1" height="35.0" fill="#fcb8a0"/>
<rect x="80.3" y="351.6" width="12.1" height="41.8" fill="#ee3b3b"/>
<text x="72.2" y="343.4" font-size="10.7" textLength="28.2" lengthAdjust="spacingAndGlyphs" fill="#1a1a1a">38,773</text>
<text x="79.9" y="412.2" text-anchor="middle" font-size="9.6" fill="#1a1a1a">2015年</text>
<rect x="111.1" y="348.1" width="12.1" height="45.3" fill="#fcb8a0"/>
<rect x="123.2" y="337.8" width="12.1" height="55.6" fill="#ee3b3b"/>
<text x="115.2" y="329.6" font-size="10.7" textLength="28.2" lengthAdjust="spacingAndGlyphs" fill="#1a1a1a">51,556</text>
<text x="122.8" y="412.2" text-anchor="middle" font-size="9.6" fill="#1a1a1a">2016年</text>
<rect x="154.1" y="334.3" width="12.1" height="59.1" fill="#fcb8a0"/>
<rect x="166.2" y="316.0" width="12.1" height="77.4" fill="#ee3b3b"/>
<text x="158.1" y="307.8" font-size="10.7" textLength="28.2" lengthAdjust="spacingAndGlyphs" fill="#1a1a1a">71,751</text>
<text x="165.8" y="412.2" text-anchor="middle" font-size="9.6" fill="#1a1a1a">2017年</text>
<rect x="197.1" y="317.7" width="12.1" height="75.7" fill="#fcb8a0"/>
<rect x="209.2" y="296.2" width="12.1" height="97.2" fill="#ee3b3b"/>
<text x="201.1" y="288.0" font-size="10.7" textLength="28.2" lengthAdjust="spacingAndGlyphs" fill="#1a1a1a">90,065</text>
<text x="208.7" y="412.2" text-anchor="middle" font-size="9.6" fill="#1a1a1a">2018年</text>
<rect x="240.0" y="301.4" width="12.1" height="92.0" fill="#fcb8a0"/>
<rect x="252.1" y="278.7" width="12.1" height="114.7" fill="#ee3b3b"/>
<text x="240.5" y="270.5" font-size="10.7" textLength="35.2" lengthAdjust="spacingAndGlyphs" fill="#1a1a1a">106,324</text>
<text x="251.7" y="412.2" text-anchor="middle" font-size="9.6" fill="#1a1a1a">2019年</text>
<rect x="282.9" y="288.1" width="12.1" height="105.3" fill="#fcb8a0"/>
<rect x="295.1" y="266.5" width="12.1" height="126.9" fill="#ee3b3b"/>
<text x="283.4" y="258.3" font-size="10.7" textLength="35.2" lengthAdjust="spacingAndGlyphs" fill="#1a1a1a">117,601</text>
<text x="294.6" y="412.2" text-anchor="middle" font-size="9.6" fill="#1a1a1a">2020年</text>
<rect x="325.9" y="276.8" width="12.1" height="116.6" fill="#fcb8a0"/>
<rect x="338.0" y="252.2" width="12.1" height="141.2" fill="#ee3b3b"/>
<text x="326.4" y="244.0" font-size="10.7" textLength="35.2" lengthAdjust="spacingAndGlyphs" fill="#1a1a1a">130,884</text>
<text x="337.6" y="412.2" text-anchor="middle" font-size="9.6" fill="#1a1a1a">2021年</text>
<rect x="368.9" y="264.3" width="12.1" height="129.1" fill="#fcb8a0"/>
<rect x="381.0" y="244.7" width="12.1" height="148.7" fill="#ee3b3b"/>
<text x="369.4" y="236.5" font-size="10.7" textLength="35.2" lengthAdjust="spacingAndGlyphs" fill="#1a1a1a">137,853</text>
<text x="380.5" y="412.2" text-anchor="middle" font-size="9.6" fill="#1a1a1a">2022年</text>
<rect x="411.8" y="252.9" width="12.1" height="140.5" fill="#fcb8a0"/>
<rect x="423.9" y="226.9" width="12.1" height="166.5" fill="#ee3b3b"/>
<text x="412.3" y="218.7" font-size="10.7" textLength="35.2" lengthAdjust="spacingAndGlyphs" fill="#1a1a1a">154,264</text>
<text x="423.5" y="412.2" text-anchor="middle" font-size="9.6" fill="#1a1a1a">2023年</text><path d="M58.4 393.59999999999997H444.9" stroke="#bfbfbf" stroke-width="0.8" fill="none"/><path d="M58.4 393.4v3" stroke="#bfbfbf" stroke-width="0.8"/><path d="M101.3 393.4v3" stroke="#bfbfbf" stroke-width="0.8"/><path d="M144.3 393.4v3" stroke="#bfbfbf" stroke-width="0.8"/><path d="M187.3 393.4v3" stroke="#bfbfbf" stroke-width="0.8"/><path d="M230.2 393.4v3" stroke="#bfbfbf" stroke-width="0.8"/><path d="M273.1 393.4v3" stroke="#bfbfbf" stroke-width="0.8"/><path d="M316.1 393.4v3" stroke="#bfbfbf" stroke-width="0.8"/><path d="M359.1 393.4v3" stroke="#bfbfbf" stroke-width="0.8"/><path d="M402.0 393.4v3" stroke="#bfbfbf" stroke-width="0.8"/><path d="M444.9 393.4v3" stroke="#bfbfbf" stroke-width="0.8"/>
</svg>

<!-- right panel -->
<div id="rt" class="abs" style="left:570.6px;top:158px;font-size:13.1px;font-weight:bold;line-height:18px;color:#111">直播、短视频电商促进消费**</div>
<div id="rs" class="abs" style="left:567.6px;top:181px;font-size:11.55px;line-height:16px;color:#1a1a1a">“直播+短视频”<span style="margin-left:6.5px">组成最佳带货搭档</span></div>
<svg class="abs" style="left:570px;top:206px" width="30" height="30" viewBox="570 206 30 30">
 <rect x="571.9" y="207.6" width="26.8" height="26.8" rx="6.2" fill="#f7480f"/>
 <g fill="none" stroke="#fff" stroke-width="1.95" stroke-linejoin="round">
  <circle cx="581.1" cy="214.9" r="2.45"/>
  <circle cx="589.4" cy="215.5" r="3.2"/>
  <rect x="583.9" y="221.7" width="9.4" height="7.2" rx="2.4"/>
  <path d="M577.7 223V228.2L581.7 225.6Z" stroke-width="1.6"/>
 </g>
</svg>
<div id="r1" class="abs" style="left:606.5px;top:208.3px;font-size:9.2px;line-height:13.3px;color:#1a1a1a">以<b style="color:#f0452e">快手</b>为重要代表的短视频平台，<br>成为拓展流量、增加营收的重要阵地</div>

<div id="l1" class="abs" style="right:329.5px;top:263px;font-size:9px;font-weight:bold;line-height:12px;color:#111;text-align:right">直播电商</div>
<div id="l2" class="abs" style="right:329.5px;top:276px;font-size:7.35px;line-height:10.8px;color:#333;text-align:right">具有高即时性和强互动性<br>能带来即时的消费转化</div>
<div id="l3" class="abs" style="left:764.2px;top:262.6px;font-size:9.1px;font-weight:bold;line-height:12px;color:#111">短视频电商</div>
<div id="l4" class="abs" style="left:764.2px;top:275.9px;font-size:7.36px;line-height:10.8px;color:#333">通过内容和场景为用户种草<br>吸引大量用户和流量并实现<br>消费转化</div>

<!-- collage -->
<svg id="col" class="abs" style="left:0;top:0" width="889" height="500" viewBox="0 0 889 500">
<defs><filter id="bl" x="-5%" y="-5%" width="110%" height="110%"><feGaussianBlur stdDeviation="2.2"/></filter></defs><g transform="translate(566 242) scale(0.19616)">
<clipPath id="cp1"><rect x="22" y="22" width="241.5" height="462"/></clipPath>
<g clip-path="url(#cp1)"><g filter="url(#bl)">
<rect x="0" y="0" width="300" height="520" fill="#da3a28" />
<rect x="22" y="22" width="245" height="100" fill="#e14c36" />
<rect x="48" y="35" width="200" height="52" fill="#c62329" rx="20"/>
<text x="148" y="74" font-size="30" fill="#fbe3d0" text-anchor="middle" font-weight="bold" >年货节狂欢</text>
<rect x="95" y="90" width="120" height="11" fill="#f6d6c6" />
<rect x="22" y="104" width="245" height="100" fill="#d63e2a" />
<rect x="150" y="110" width="110" height="40" fill="#e8602e" />
<rect x="100" y="120" width="60" height="30" fill="#f0a05a" />
<rect x="22" y="195" width="245" height="12" fill="#b52a22" />
<ellipse cx="68" cy="175" rx="31" ry="55" fill="#3a1e16" />
<ellipse cx="66" cy="152" rx="17" ry="23" fill="#efc2a4" />
<rect x="40" y="205" width="55" height="40" fill="#40221a" />
<rect x="22" y="240" width="75" height="125" fill="#e14b2b" />
<rect x="95" y="225" width="120" height="125" fill="#e33a22" />
<rect x="108" y="232" width="95" height="24" fill="#f59c4c" />
<rect x="205" y="200" width="58" height="135" fill="#d22a26" />
<rect x="212" y="205" width="30" height="26" fill="#f0ded4" />
<circle cx="165" cy="205" r="19" fill="#f1c534" />
<circle cx="195" cy="160" r="12" fill="#f0a030" />
<circle cx="120" cy="200" r="12" fill="#f2b040" />
<rect x="60" y="262" width="60" height="20" fill="#f0c030" />
<rect x="95" y="290" width="120" height="55" fill="#ee6c38" />
<rect x="130" y="300" width="60" height="25" fill="#e8a040" />
<rect x="22" y="320" width="75" height="45" fill="#d8382a" />
<rect x="215" y="335" width="48" height="30" fill="#e86040" />
<rect x="22" y="362" width="80" height="80" fill="#be1a2c" />
<circle cx="55" cy="395" r="14" fill="#e86a6a" />
<circle cx="85" cy="415" r="10" fill="#e05050" />
<rect x="100" y="368" width="158" height="74" fill="#fdf6f4" />
<rect x="110" y="377" width="125" height="9" fill="#6a5a5a" />
<rect x="110" y="397" width="90" height="7" fill="#b4a6a6" />
<rect x="110" y="418" width="80" height="9" fill="#e04656" />
<rect x="22" y="440" width="245" height="50" fill="#ece3e6" />
<circle cx="60" cy="458" r="12" fill="#d8c8d8" />
<circle cx="110" cy="458" r="10" fill="#c8d8e8" />
<circle cx="235" cy="458" r="12" fill="#e8c8c8" />
</g></g></g>
<g transform="translate(566 242) scale(0.19616)">
<clipPath id="cp2"><rect x="263.5" y="22" width="234.0" height="462"/></clipPath>
<g clip-path="url(#cp2)"><g filter="url(#bl)">
<rect x="240" y="0" width="300" height="520" fill="#6a5286" />
<linearGradient id="g2" x1="0" y1="0" x2="0" y2="1"><stop offset="0" stop-color="#574684"/><stop offset="1" stop-color="#9a5a78"/></linearGradient>
<rect x="263" y="22" width="240" height="180" fill="url(#g2)" />
<circle cx="282" cy="42" r="7" fill="#e8e0e0" />
<rect x="294" y="38" width="60" height="8" fill="#d8d0e0" />
<rect x="288" y="56" width="186" height="36" fill="#e7a95c" rx="8"/>
<text x="381" y="85" font-size="27" fill="#e3402a" text-anchor="middle" font-weight="bold" >超品嗨翻年货节</text>
<rect x="322" y="94" width="100" height="24" fill="#f2c23c" rx="5"/>
<text x="372" y="114" font-size="20" fill="#d04020" text-anchor="middle" font-weight="bold" >福 春 汇</text>
<circle cx="290" cy="180" r="18" fill="#3d6fb8" />
<circle cx="292" cy="165" r="11" fill="#f0b070" />
<circle cx="455" cy="165" r="15" fill="#7a4aa0" />
<circle cx="452" cy="152" r="9" fill="#f0c090" />
<rect x="263" y="200" width="60" height="100" fill="#d6483a" />
<rect x="442" y="180" width="60" height="125" fill="#b84054" />
<rect x="450" y="230" width="50" height="50" fill="#d83830" />
<rect x="318" y="165" width="124" height="128" fill="#e23a26" />
<rect x="318" y="165" width="124" height="20" fill="#f0603c" />
<circle cx="378" cy="240" r="33" fill="#f3dfc0" />
<circle cx="378" cy="242" r="20" fill="#f09030" />
<circle cx="378" cy="236" r="9" fill="#f8f0e0" />
<rect x="263" y="300" width="240" height="85" fill="#d9432c" />
<path d="M263 300 L503 282 L503 298 L263 318Z" fill="#f5dad2"/>
<circle cx="337" cy="322" r="27" fill="#f08a28" />
<circle cx="337" cy="318" r="14" fill="#f8ead8" />
<circle cx="330" cy="352" r="14" fill="#4a9a3a" />
<rect x="380" y="310" width="120" height="60" fill="#cf3a2a" />
<rect x="400" y="318" width="80" height="20" fill="#e86a48" />
<rect x="263" y="380" width="240" height="62" fill="#f3a272" />
<rect x="290" y="392" width="42" height="42" fill="#d83020" />
<rect x="345" y="400" width="80" height="26" fill="#c9822e" />
<rect x="432" y="395" width="55" height="40" fill="#e04a38" />
<rect x="445" y="402" width="28" height="12" fill="#f6e6e0" />
<rect x="263" y="440" width="240" height="50" fill="#ece6ea" />
<circle cx="300" cy="458" r="12" fill="#d8d0e0" />
<circle cx="400" cy="458" r="10" fill="#e8d0c8" />
<circle cx="470" cy="458" r="12" fill="#c8d8e0" />
</g></g></g>
<g transform="translate(662 242) scale(0.19616)">
<clipPath id="cp3"><rect x="22" y="28" width="234.5" height="463"/></clipPath>
<g clip-path="url(#cp3)"><g filter="url(#bl)">
<rect x="0" y="0" width="300" height="520" fill="#c4641e" />
<rect x="22" y="28" width="240" height="42" fill="#6e3410" />
<rect x="30" y="36" width="222" height="27" fill="#cf7a22" />
<rect x="22" y="70" width="240" height="140" fill="#8a4818" />
<rect x="28" y="78" width="86" height="108" fill="#f28a22" />
<rect x="44" y="116" width="52" height="30" fill="#f7bd78" />
<rect x="160" y="72" width="94" height="90" fill="#f28a22" />
<rect x="176" y="100" width="58" height="28" fill="#f8c484" />
<rect x="215" y="160" width="45" height="50" fill="#b05e20" />
<rect x="112" y="125" width="54" height="82" fill="#d9d1c9" />
<ellipse cx="136" cy="98" rx="21" ry="24" fill="#4a2a1a" />
<ellipse cx="136" cy="106" rx="14" ry="18" fill="#e9ba9a" />
<rect x="28" y="205" width="220" height="84" fill="#ef8420" />
<rect x="40" y="222" width="70" height="30" fill="#f6b468" />
<rect x="140" y="222" width="80" height="30" fill="#f6b468" />
<rect x="118" y="205" width="5" height="84" fill="#a85414" />
<rect x="28" y="258" width="220" height="4" fill="#b86018" />
<rect x="22" y="290" width="240" height="114" fill="#7e5e44" />
<rect x="38" y="298" width="62" height="42" fill="#d9ba92" />
<rect x="46" y="306" width="46" height="26" fill="#c39c6e" />
<rect x="108" y="298" width="64" height="42" fill="#d9ba92" />
<rect x="116" y="306" width="48" height="26" fill="#c39c6e" />
<rect x="180" y="298" width="64" height="42" fill="#d9ba92" />
<rect x="188" y="306" width="48" height="26" fill="#c39c6e" />
<rect x="32" y="350" width="68" height="48" fill="#d9ba92" />
<rect x="40" y="358" width="52" height="32" fill="#c39c6e" />
<rect x="108" y="350" width="68" height="48" fill="#d9ba92" />
<rect x="116" y="358" width="52" height="32" fill="#c39c6e" />
<rect x="184" y="350" width="64" height="48" fill="#d9ba92" />
<rect x="192" y="358" width="48" height="32" fill="#c39c6e" />
<rect x="22" y="402" width="240" height="110" fill="#1e1817" />
<rect x="34" y="422" width="150" height="14" fill="#d9d2d2" opacity=".85"/>
<circle cx="46" cy="468" r="14" fill="#d85a20" />
<ellipse cx="110" cy="468" rx="42" ry="9" fill="#5a5a62" />
</g></g></g>
<g transform="translate(662 242) scale(0.19616)">
<clipPath id="cp4"><rect x="256.5" y="28" width="236.0" height="463"/></clipPath>
<g clip-path="url(#cp4)"><g filter="url(#bl)">
<rect x="240" y="0" width="300" height="520" fill="#6a3412" />
<circle cx="300" cy="72" r="47" fill="#5e2a0e" /><circle cx="300" cy="72" r="43" fill="#b8732c" /><circle cx="300" cy="72" r="29" fill="none" stroke="#dba456" stroke-width="8"/><circle cx="300" cy="72" r="14" fill="none" stroke="#d69a4a" stroke-width="7"/><circle cx="300" cy="72" r="22" fill="none" stroke="#94501a" stroke-width="5"/>
<circle cx="392" cy="68" r="52" fill="#5e2a0e" /><circle cx="392" cy="68" r="48" fill="#b8732c" /><circle cx="392" cy="68" r="32" fill="none" stroke="#dba456" stroke-width="8"/><circle cx="392" cy="68" r="16" fill="none" stroke="#d69a4a" stroke-width="7"/><circle cx="392" cy="68" r="24" fill="none" stroke="#94501a" stroke-width="5"/>
<circle cx="468" cy="82" r="40" fill="#5e2a0e" /><circle cx="468" cy="82" r="36" fill="#b8732c" /><circle cx="468" cy="82" r="25" fill="none" stroke="#dba456" stroke-width="6"/><circle cx="468" cy="82" r="12" fill="none" stroke="#d69a4a" stroke-width="6"/><circle cx="468" cy="82" r="18" fill="none" stroke="#94501a" stroke-width="4"/>
<circle cx="275" cy="165" r="36" fill="#5e2a0e" /><circle cx="275" cy="165" r="32" fill="#b8732c" /><circle cx="275" cy="165" r="22" fill="none" stroke="#dba456" stroke-width="6"/><circle cx="275" cy="165" r="11" fill="none" stroke="#d69a4a" stroke-width="5"/><circle cx="275" cy="165" r="17" fill="none" stroke="#94501a" stroke-width="4"/>
<circle cx="345" cy="205" r="56" fill="#5e2a0e" /><circle cx="345" cy="205" r="52" fill="#b8732c" /><circle cx="345" cy="205" r="35" fill="none" stroke="#dba456" stroke-width="9"/><circle cx="345" cy="205" r="17" fill="none" stroke="#d69a4a" stroke-width="8"/><circle cx="345" cy="205" r="26" fill="none" stroke="#94501a" stroke-width="6"/>
<circle cx="452" cy="212" r="52" fill="#5e2a0e" /><circle cx="452" cy="212" r="48" fill="#b8732c" /><circle cx="452" cy="212" r="32" fill="none" stroke="#dba456" stroke-width="8"/><circle cx="452" cy="212" r="16" fill="none" stroke="#d69a4a" stroke-width="7"/><circle cx="452" cy="212" r="24" fill="none" stroke="#94501a" stroke-width="5"/>
<circle cx="300" cy="295" r="50" fill="#5e2a0e" /><circle cx="300" cy="295" r="46" fill="#b8732c" /><circle cx="300" cy="295" r="31" fill="none" stroke="#dba456" stroke-width="8"/><circle cx="300" cy="295" r="15" fill="none" stroke="#d69a4a" stroke-width="7"/><circle cx="300" cy="295" r="23" fill="none" stroke="#94501a" stroke-width="5"/>
<circle cx="402" cy="285" r="56" fill="#5e2a0e" /><circle cx="402" cy="285" r="52" fill="#b8732c" /><circle cx="402" cy="285" r="35" fill="none" stroke="#dba456" stroke-width="9"/><circle cx="402" cy="285" r="17" fill="none" stroke="#d69a4a" stroke-width="8"/><circle cx="402" cy="285" r="26" fill="none" stroke="#94501a" stroke-width="6"/>
<circle cx="482" cy="305" r="36" fill="#5e2a0e" /><circle cx="482" cy="305" r="32" fill="#b8732c" /><circle cx="482" cy="305" r="22" fill="none" stroke="#dba456" stroke-width="6"/><circle cx="482" cy="305" r="11" fill="none" stroke="#d69a4a" stroke-width="5"/><circle cx="482" cy="305" r="17" fill="none" stroke="#94501a" stroke-width="4"/>
<circle cx="335" cy="375" r="40" fill="#5e2a0e" /><circle cx="335" cy="375" r="36" fill="#b8732c" /><circle cx="335" cy="375" r="25" fill="none" stroke="#dba456" stroke-width="6"/><circle cx="335" cy="375" r="12" fill="none" stroke="#d69a4a" stroke-width="6"/><circle cx="335" cy="375" r="18" fill="none" stroke="#94501a" stroke-width="4"/>
<circle cx="440" cy="365" r="46" fill="#5e2a0e" /><circle cx="440" cy="365" r="42" fill="#b8732c" /><circle cx="440" cy="365" r="29" fill="none" stroke="#dba456" stroke-width="7"/><circle cx="440" cy="365" r="14" fill="none" stroke="#d69a4a" stroke-width="6"/><circle cx="440" cy="365" r="21" fill="none" stroke="#94501a" stroke-width="5"/>
<circle cx="262" cy="240" r="26" fill="#5e2a0e" /><circle cx="262" cy="240" r="22" fill="#b8732c" /><circle cx="262" cy="240" r="16" fill="none" stroke="#dba456" stroke-width="4"/><circle cx="262" cy="240" r="8" fill="none" stroke="#d69a4a" stroke-width="4"/><circle cx="262" cy="240" r="12" fill="none" stroke="#94501a" stroke-width="3"/>
<circle cx="495" cy="150" r="26" fill="#5e2a0e" /><circle cx="495" cy="150" r="22" fill="#b8732c" /><circle cx="495" cy="150" r="16" fill="none" stroke="#dba456" stroke-width="4"/><circle cx="495" cy="150" r="8" fill="none" stroke="#d69a4a" stroke-width="4"/><circle cx="495" cy="150" r="12" fill="none" stroke="#94501a" stroke-width="3"/>
<text x="376" y="166" font-size="25" fill="#ffffff" text-anchor="middle" font-weight="bold" >快手超级年货节</text>
<rect x="256" y="385" width="250" height="130" fill="#1a1412" />
<rect x="272" y="401" width="190" height="13" fill="#cfcaca" opacity=".85"/>
<rect x="272" y="423" width="170" height="13" fill="#cfcaca" opacity=".8"/>
<circle cx="285" cy="468" r="13" fill="#8a8a8a" />
<ellipse cx="350" cy="468" rx="40" ry="9" fill="#4a4a52" />
</g></g></g>
<g transform="translate(566 326) scale(0.19616)">
<clipPath id="cp5"><rect x="22" y="55" width="241.5" height="408"/></clipPath>
<g clip-path="url(#cp5)"><g filter="url(#bl)">
<linearGradient id="g5" x1="0" y1="0" x2="0" y2="1"><stop offset="0" stop-color="#cbd5ee"/><stop offset="1" stop-color="#e2e5ee"/></linearGradient>
<rect x="0" y="40" width="300" height="440" fill="url(#g5)" />
<rect x="30" y="62" width="136" height="24" fill="#8c9cb0" rx="5"/>
<rect x="40" y="70" width="110" height="8" fill="#e8eef4" />
<rect x="22" y="90" width="245" height="32" fill="#f6ecf1" />
<rect x="32" y="99" width="78" height="14" fill="#e0445e" />
<rect x="180" y="99" width="70" height="14" fill="#ebb4c4" rx="6"/>
<rect x="226" y="180" width="8" height="100" fill="#e6b6c6" opacity=".8"/>
<ellipse cx="140" cy="410" rx="130" ry="78" fill="#f2f1f1" />
<ellipse cx="140" cy="370" rx="60" ry="40" fill="#e6e4e4" />
<path d="M62 258 C50 190 80 150 135 148 C196 146 218 192 210 262 L195 262 L190 215 L85 215 L80 258Z" fill="#1e1614"/>
<ellipse cx="138" cy="265" rx="50" ry="68" fill="#e6c4b3" />
<path d="M66 230 Q70 152 138 150 Q204 152 208 235 Q192 205 152 218 Q122 196 86 244 Z" fill="#1e1614"/>
<rect x="100" y="258" width="28" height="6" fill="#3a2a28" />
<rect x="152" y="258" width="28" height="6" fill="#3a2a28" />
<ellipse cx="140" cy="318" rx="13" ry="5" fill="#c47272" />
<ellipse cx="132" cy="345" rx="26" ry="30" fill="#e6c3b1" />
<rect x="22" y="395" width="245" height="70" fill="#fbf8f8" />
<rect x="30" y="398" width="68" height="65" fill="#c99aca" />
<rect x="40" y="410" width="30" height="45" fill="#d64868" />
<rect x="110" y="404" width="112" height="9" fill="#5a5058" />
<rect x="110" y="423" width="70" height="6" fill="#b8b0b8" />
<rect x="110" y="443" width="62" height="9" fill="#e04860" />
<rect x="172" y="449" width="95" height="6" fill="#181818" rx="3"/>
</g></g></g>
<g transform="translate(566 326) scale(0.19616)">
<clipPath id="cp6"><rect x="263.5" y="55" width="236.5" height="408"/></clipPath>
<g clip-path="url(#cp6)"><g filter="url(#bl)">
<rect x="240" y="40" width="300" height="440" fill="#b9c0b0" />
<rect x="263" y="55" width="240" height="78" fill="#8e988a" />
<rect x="300" y="85" width="122" height="40" fill="#c9d1c9" />
<rect x="420" y="60" width="52" height="92" fill="#67885a" />
<rect x="272" y="62" width="76" height="24" fill="#5a554e" rx="5"/>
<rect x="280" y="70" width="60" height="8" fill="#d8d8d0" />
<rect x="263" y="166" width="240" height="40" fill="#dfe8d8" />
<rect x="275" y="172" width="40" height="28" fill="#5a9a4a" />
<rect x="345" y="172" width="50" height="28" fill="#78a860" />
<rect x="420" y="172" width="40" height="28" fill="#5a9a4a" />
<rect x="293" y="130" width="150" height="36" fill="#d8303c" />
<text x="368" y="158" font-size="24" fill="#fbeeee" text-anchor="middle" font-weight="bold" >超多年货到家</text>
<rect x="266" y="205" width="34" height="84" fill="#e8862a" />
<rect x="300" y="205" width="30" height="84" fill="#f0c838" />
<rect x="330" y="205" width="28" height="84" fill="#e8a030" />
<rect x="358" y="205" width="28" height="84" fill="#d04888" />
<rect x="386" y="205" width="26" height="84" fill="#f0d040" />
<rect x="412" y="205" width="29" height="84" fill="#6aa838" />
<rect x="441" y="205" width="31" height="84" fill="#e8c030" />
<rect x="263" y="205" width="210" height="12" fill="#3c4a2a" />
<rect x="263" y="288" width="240" height="108" fill="#eef2ec" />
<rect x="272" y="298" width="54" height="42" fill="#4e8c4e" />
<rect x="272" y="298" width="14" height="14" fill="#222" />
<rect x="290" y="312" width="26" height="20" fill="#b8d0b0" />
<rect x="338" y="298" width="62" height="42" fill="#dce8d8" />
<rect x="338" y="298" width="14" height="14" fill="#222" />
<rect x="356" y="312" width="34" height="20" fill="#7aa870" />
<rect x="410" y="298" width="58" height="42" fill="#4e8c4e" />
<rect x="410" y="298" width="14" height="14" fill="#222" />
<rect x="428" y="312" width="30" height="20" fill="#b8d0b0" />
<rect x="272" y="350" width="54" height="42" fill="#e2ecde" />
<rect x="272" y="350" width="14" height="14" fill="#222" />
<rect x="290" y="364" width="26" height="20" fill="#7aa870" />
<rect x="338" y="350" width="62" height="42" fill="#5a9658" />
<rect x="338" y="350" width="14" height="14" fill="#222" />
<rect x="356" y="364" width="34" height="20" fill="#b8d0b0" />
<rect x="410" y="350" width="58" height="42" fill="#d8e6d4" />
<rect x="410" y="350" width="14" height="14" fill="#222" />
<rect x="428" y="364" width="30" height="20" fill="#7aa870" />
<rect x="470" y="55" width="35" height="250" fill="#6a3028" />
<rect x="478" y="120" width="22" height="120" fill="#a83028" />
<rect x="470" y="300" width="35" height="96" fill="#8a8478" />
<rect x="263" y="395" width="240" height="70" fill="#fbf8f6" />
<rect x="284" y="400" width="58" height="62" fill="#e0601e" />
<rect x="295" y="410" width="30" height="30" fill="#f0a040" />
<rect x="352" y="404" width="104" height="9" fill="#5a5058" />
<rect x="352" y="423" width="70" height="6" fill="#b8b0b8" />
<rect x="352" y="443" width="72" height="9" fill="#e04860" />
<rect x="255" y="449" width="36" height="6" fill="#181818" rx="3"/>
</g></g></g>
<g transform="translate(662 326) scale(0.19616)">
<clipPath id="cp7"><rect x="22" y="62" width="237" height="401"/></clipPath>
<g clip-path="url(#cp7)"><g filter="url(#bl)">
<radialGradient id="g7" cx="140" cy="210" r="190" gradientUnits="userSpaceOnUse"><stop offset="0" stop-color="#d01c24"/><stop offset=".6" stop-color="#a60f18"/><stop offset="1" stop-color="#6c0810"/></radialGradient>
<rect x="0" y="40" width="300" height="440" fill="url(#g7)" />
<rect x="22" y="62" width="22" height="320" fill="#7c0a12" opacity=".55"/>
<rect x="60" y="62" width="22" height="320" fill="#7c0a12" opacity=".55"/>
<rect x="200" y="62" width="22" height="320" fill="#7c0a12" opacity=".55"/>
<rect x="236" y="62" width="22" height="320" fill="#7c0a12" opacity=".55"/>
<text x="140" y="108" font-size="19" fill="#e6ae72" text-anchor="middle" font-weight="bold" >快手电商</text>
<text x="139" y="179" font-size="51" fill="#f4d0aa" text-anchor="middle" font-weight="bold" >年货节</text>
<text x="139" y="239" font-size="51" fill="#f4d0aa" text-anchor="middle" font-weight="bold" >放肆购</text>
<circle cx="236" cy="238" r="12" fill="#e86a58" opacity=".7"/>
<circle cx="48" cy="330" r="16" fill="#d84848" opacity=".55"/>
<circle cx="232" cy="305" r="27" fill="#4a1020" />
<circle cx="60" cy="285" r="9" fill="#e06050" opacity=".5"/>
<rect x="22" y="375" width="240" height="90" fill="#4a0810" />
<path d="M82 372 L92 305 L150 288 L206 308 L212 372Z" fill="#d8282a"/>
<path d="M100 370 L104 300 L112 298 L109 370Z" fill="#f4e8e2"/>
<path d="M122 370 L126 300 L134 298 L131 370Z" fill="#f4e8e2"/>
<path d="M144 370 L148 300 L156 298 L153 370Z" fill="#f4e8e2"/>
<path d="M166 370 L170 300 L178 298 L175 370Z" fill="#f4e8e2"/>
<path d="M188 370 L192 300 L200 298 L197 370Z" fill="#f4e8e2"/>
<ellipse cx="150" cy="292" rx="38" ry="11" fill="#f6ecea" />
<circle cx="150" cy="286" r="10" fill="#e03030" />
<rect x="30" y="432" width="80" height="14" fill="#c02434" />
<rect x="176" y="443" width="52" height="6" fill="#eadcdc" rx="3"/>
</g></g></g>
<g transform="translate(662 326) scale(0.19616)">
<clipPath id="cp8"><rect x="259" y="62" width="233.5" height="401"/></clipPath>
<g clip-path="url(#cp8)"><g filter="url(#bl)">
<rect x="240" y="40" width="300" height="440" fill="#84503c" />
<rect x="256" y="62" width="240" height="105" fill="#30382c" />
<rect x="256" y="62" width="240" height="20" fill="#585048" />
<text x="376" y="117" font-size="36" fill="#ffffff" text-anchor="middle" font-weight="bold" stroke="#111" stroke-width="3" paint-order="stroke">挑战花800元</text>
<text x="376" y="157" font-size="36" fill="#ffffff" text-anchor="middle" font-weight="bold" stroke="#111" stroke-width="3" paint-order="stroke">在县城买年货</text>
<rect x="256" y="165" width="92" height="140" fill="#c6301e" />
<rect x="265" y="180" width="40" height="40" fill="#e8b030" />
<rect x="300" y="235" width="40" height="35" fill="#e09028" />
<rect x="262" y="260" width="35" height="40" fill="#a82018" />
<rect x="345" y="165" width="150" height="100" fill="#74463a" />
<rect x="450" y="180" width="45" height="90" fill="#9a3228" />
<rect x="440" y="300" width="56" height="145" fill="#c02828" />
<path d="M262 324 L426 304 L444 442 L258 450Z" fill="#d42c2c"/>
<path d="M280 340 L412 322 L426 428 L276 434Z" fill="#b9b06e"/>
<path d="M298 354 L398 340 L410 414 L294 420Z" fill="#d8c890"/>
<circle cx="348" cy="382" r="22" fill="#4a8a4a" />
<circle cx="348" cy="382" r="11" fill="#d8c060" />
<path d="M374 272 Q398 238 442 240 Q484 250 489 300 L492 428 L412 428 Q380 340 374 272Z" fill="#cfccc4" stroke="#f8f8f8" stroke-width="5"/>
<ellipse cx="408" cy="208" rx="33" ry="42" fill="#a88462" stroke="#f8f8f8" stroke-width="4"/>
<ellipse cx="413" cy="218" rx="15" ry="20" fill="#efd2c0" />
<rect x="385" y="300" width="60" height="30" fill="#b8b4ac" />
<rect x="256" y="440" width="240" height="25" fill="#2a2020" />
</g></g></g>
</svg>

<div id="f1" class="abs" style="left:60.3px;top:448.4px;font-size:7.5px;line-height:10px;color:#1a1a1a">*数据来源：国家统计局、CNNIC《互联网助力数字消费发展蓝皮书》</div>
<div id="f2" class="abs" style="left:492.8px;top:447.3px;font-size:7.47px;line-height:10px;color:#1a1a1a">**结论来源：CNNIC《互联网助力数字消费发展蓝皮书》</div>
<div id="f3" class="abs" style="left:38.4px;top:472.9px;font-size:8.4px;line-height:10px;color:#808080">© 2006-2025 秒针系统 版权所有</div>
<div id="f4" class="abs" style="left:849.2px;top:472.9px;font-size:8.2px;line-height:10px;color:#404040">7</div>
</body></html>
